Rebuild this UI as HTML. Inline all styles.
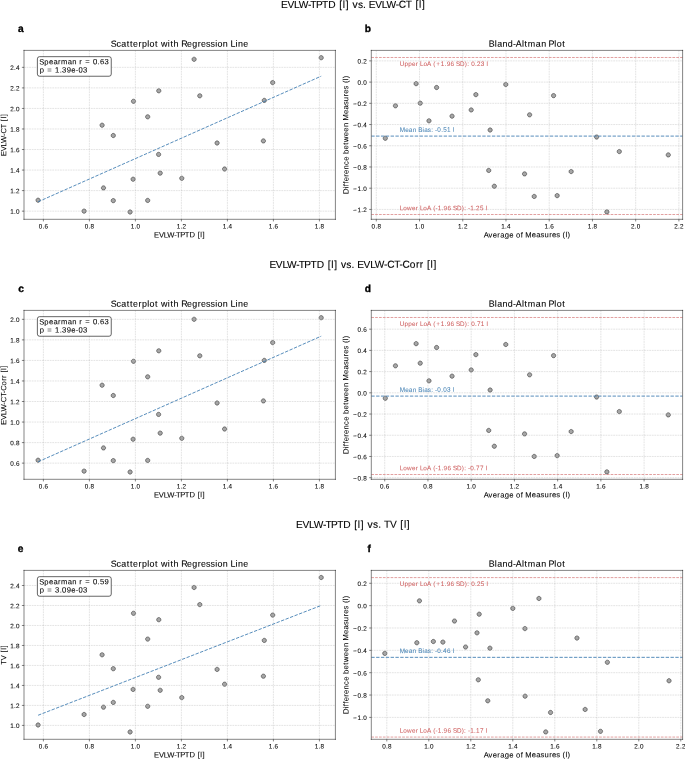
<!DOCTYPE html>
<html><head><meta charset="utf-8"><title>EVLW-TPTD comparison plots</title>
<style>
html,body{margin:0;padding:0;background:#fff;}
body{width:685px;height:760px;overflow:hidden;font-family:"Liberation Sans",sans-serif;}
svg{display:block;will-change:transform;}
</style></head><body>
<svg width="685" height="760" viewBox="0 0 1128.500824 1252.059308" version="1.1">
 
 <defs>
  <style type="text/css">*{stroke-linejoin: round; stroke-linecap: butt}</style>
 </defs>
 <g id="figure_1">
  <g id="patch_1">
   <path d="M 0 1252.059308 
L 1128.500824 1252.059308 
L 1128.500824 0 
L 0 0 
z
" style="fill: #ffffff"/>
  </g>
  <g id="axes_1">
   <g id="patch_2">
    <path d="M 39.538715 361.285008 
L 552.553542 361.285008 
L 552.553542 83.031301 
L 39.538715 83.031301 
z
" style="fill: #ffffff"/>
   </g>
   <g id="PathCollection_1">
    <defs>
     <path id="m68a2e3ce47" d="M 0 3.535534 
C 0.937635 3.535534 1.836992 3.163008 2.5 2.5 
C 3.163008 1.836992 3.535534 0.937635 3.535534 0 
C 3.535534 -0.937635 3.163008 -1.836992 2.5 -2.5 
C 1.836992 -3.163008 0.937635 -3.535534 0 -3.535534 
C -0.937635 -3.535534 -1.836992 -3.163008 -2.5 -2.5 
C -3.163008 -1.836992 -3.535534 -0.937635 -3.535534 0 
C -3.535534 0.937635 -3.163008 1.836992 -2.5 2.5 
C -1.836992 3.163008 -0.937635 3.535534 0 3.535534 
z
" style="stroke: #000000; stroke-opacity: 0.7"/>
    </defs>
    <g clip-path="url(#p856f4ecef2)">
     <use href="#m68a2e3ce47" x="62.749812" y="329.849229" style="fill: #808080; fill-opacity: 0.7; stroke: #000000; stroke-opacity: 0.7"/>
     <use href="#m68a2e3ce47" x="138.533079" y="347.808535" style="fill: #808080; fill-opacity: 0.7; stroke: #000000; stroke-opacity: 0.7"/>
     <use href="#m68a2e3ce47" x="168.187401" y="206.276024" style="fill: #808080; fill-opacity: 0.7; stroke: #000000; stroke-opacity: 0.7"/>
     <use href="#m68a2e3ce47" x="170.493848" y="309.583223" style="fill: #808080; fill-opacity: 0.7; stroke: #000000; stroke-opacity: 0.7"/>
     <use href="#m68a2e3ce47" x="186.638979" y="223.246744" style="fill: #808080; fill-opacity: 0.7; stroke: #000000; stroke-opacity: 0.7"/>
     <use href="#m68a2e3ce47" x="186.638979" y="330.508286" style="fill: #808080; fill-opacity: 0.7; stroke: #000000; stroke-opacity: 0.7"/>
     <use href="#m68a2e3ce47" x="214.316346" y="349.291413" style="fill: #808080; fill-opacity: 0.7; stroke: #000000; stroke-opacity: 0.7"/>
     <use href="#m68a2e3ce47" x="219.258733" y="295.248732" style="fill: #808080; fill-opacity: 0.7; stroke: #000000; stroke-opacity: 0.7"/>
     <use href="#m68a2e3ce47" x="219.917718" y="166.897363" style="fill: #808080; fill-opacity: 0.7; stroke: #000000; stroke-opacity: 0.7"/>
     <use href="#m68a2e3ce47" x="243.311683" y="192.435825" style="fill: #808080; fill-opacity: 0.7; stroke: #000000; stroke-opacity: 0.7"/>
     <use href="#m68a2e3ce47" x="243.311683" y="330.178757" style="fill: #808080; fill-opacity: 0.7; stroke: #000000; stroke-opacity: 0.7"/>
     <use href="#m68a2e3ce47" x="261.269022" y="254.387192" style="fill: #808080; fill-opacity: 0.7; stroke: #000000; stroke-opacity: 0.7"/>
     <use href="#m68a2e3ce47" x="261.598515" y="149.597114" style="fill: #808080; fill-opacity: 0.7; stroke: #000000; stroke-opacity: 0.7"/>
     <use href="#m68a2e3ce47" x="263.904962" y="285.198111" style="fill: #808080; fill-opacity: 0.7; stroke: #000000; stroke-opacity: 0.7"/>
     <use href="#m68a2e3ce47" x="299.490149" y="293.765853" style="fill: #808080; fill-opacity: 0.7; stroke: #000000; stroke-opacity: 0.7"/>
     <use href="#m68a2e3ce47" x="319.753935" y="97.696368" style="fill: #808080; fill-opacity: 0.7; stroke: #000000; stroke-opacity: 0.7"/>
     <use href="#m68a2e3ce47" x="329.14447" y="157.835328" style="fill: #808080; fill-opacity: 0.7; stroke: #000000; stroke-opacity: 0.7"/>
     <use href="#m68a2e3ce47" x="357.645569" y="235.604065" style="fill: #808080; fill-opacity: 0.7; stroke: #000000; stroke-opacity: 0.7"/>
     <use href="#m68a2e3ce47" x="370.001536" y="278.442776" style="fill: #808080; fill-opacity: 0.7; stroke: #000000; stroke-opacity: 0.7"/>
     <use href="#m68a2e3ce47" x="433.923075" y="232.144015" style="fill: #808080; fill-opacity: 0.7; stroke: #000000; stroke-opacity: 0.7"/>
     <use href="#m68a2e3ce47" x="435.405791" y="165.414484" style="fill: #808080; fill-opacity: 0.7; stroke: #000000; stroke-opacity: 0.7"/>
     <use href="#m68a2e3ce47" x="449.244474" y="136.086444" style="fill: #808080; fill-opacity: 0.7; stroke: #000000; stroke-opacity: 0.7"/>
     <use href="#m68a2e3ce47" x="529.146397" y="95.06014" style="fill: #808080; fill-opacity: 0.7; stroke: #000000; stroke-opacity: 0.7"/>
    </g>
   </g>
   <g id="matplotlib.axis_1">
    <g id="xtick_1">
     <g id="line2d_1">
      <path d="M 71.481362 361.285008 
L 71.481362 83.031301 
" clip-path="url(#p856f4ecef2)" style="fill: none; stroke-dasharray: 2.96,1.28; stroke-dashoffset: 0; stroke: #b0b0b0; stroke-opacity: 0.7; stroke-width: 0.8"/>
     </g>
     <g id="line2d_2">
      <defs>
       <path id="mc64cb7f3fb" d="M 0 0 
L 0 3.5 
" style="stroke: #000000; stroke-width: 0.8"/>
      </defs>
      <g>
       <use href="#mc64cb7f3fb" x="71.481362" y="361.285008" style="stroke: #000000; stroke-width: 0.8"/>
      </g>
     </g>
     <g id="text_1">
      <g transform="translate(0 0.6590)"><text style="font-size: 10.500px; font-family: 'Liberation Sans', sans-serif; text-anchor: start; stroke: #000000; stroke-width: 0.100px; stroke-linejoin: round" x="63.788 70.017 73.335" y="375.8834" transform="rotate(-0.05 71.481362 375.883446)">0.6</text></g>
     </g>
    </g>
    <g id="xtick_2">
     <g id="line2d_3">
      <path d="M 147.264629 361.285008 
L 147.264629 83.031301 
" clip-path="url(#p856f4ecef2)" style="fill: none; stroke-dasharray: 2.96,1.28; stroke-dashoffset: 0; stroke: #b0b0b0; stroke-opacity: 0.7; stroke-width: 0.8"/>
     </g>
     <g id="line2d_4">
      <g>
       <use href="#mc64cb7f3fb" x="147.264629" y="361.285008" style="stroke: #000000; stroke-width: 0.8"/>
      </g>
     </g>
     <g id="text_2">
      <g transform="translate(0 0.6590)"><text style="font-size: 10.500px; font-family: 'Liberation Sans', sans-serif; text-anchor: start; stroke: #000000; stroke-width: 0.100px; stroke-linejoin: round" x="139.571 145.800 149.118" y="375.8834" transform="rotate(-0.05 147.264629 375.883446)">0.8</text></g>
     </g>
    </g>
    <g id="xtick_3">
     <g id="line2d_5">
      <path d="M 223.047896 361.285008 
L 223.047896 83.031301 
" clip-path="url(#p856f4ecef2)" style="fill: none; stroke-dasharray: 2.96,1.28; stroke-dashoffset: 0; stroke: #b0b0b0; stroke-opacity: 0.7; stroke-width: 0.8"/>
     </g>
     <g id="line2d_6">
      <g>
       <use href="#mc64cb7f3fb" x="223.047896" y="361.285008" style="stroke: #000000; stroke-width: 0.8"/>
      </g>
     </g>
     <g id="text_3">
      <g transform="translate(0 0.6590)"><text style="font-size: 10.500px; font-family: 'Liberation Sans', sans-serif; text-anchor: start; stroke: #000000; stroke-width: 0.100px; stroke-linejoin: round" x="215.355 221.583 224.902" y="375.8834" transform="rotate(-0.05 223.047896 375.883446)">1.0</text></g>
     </g>
    </g>
    <g id="xtick_4">
     <g id="line2d_7">
      <path d="M 298.831164 361.285008 
L 298.831164 83.031301 
" clip-path="url(#p856f4ecef2)" style="fill: none; stroke-dasharray: 2.96,1.28; stroke-dashoffset: 0; stroke: #b0b0b0; stroke-opacity: 0.7; stroke-width: 0.8"/>
     </g>
     <g id="line2d_8">
      <g>
       <use href="#mc64cb7f3fb" x="298.831164" y="361.285008" style="stroke: #000000; stroke-width: 0.8"/>
      </g>
     </g>
     <g id="text_4">
      <g transform="translate(0 0.6590)"><text style="font-size: 10.500px; font-family: 'Liberation Sans', sans-serif; text-anchor: start; stroke: #000000; stroke-width: 0.100px; stroke-linejoin: round" x="291.138 297.367 300.685" y="375.8834" transform="rotate(-0.05 298.831164 375.883446)">1.2</text></g>
     </g>
    </g>
    <g id="xtick_5">
     <g id="line2d_9">
      <path d="M 374.614431 361.285008 
L 374.614431 83.031301 
" clip-path="url(#p856f4ecef2)" style="fill: none; stroke-dasharray: 2.96,1.28; stroke-dashoffset: 0; stroke: #b0b0b0; stroke-opacity: 0.7; stroke-width: 0.8"/>
     </g>
     <g id="line2d_10">
      <g>
       <use href="#mc64cb7f3fb" x="374.614431" y="361.285008" style="stroke: #000000; stroke-width: 0.8"/>
      </g>
     </g>
     <g id="text_5">
      <g transform="translate(0 0.6590)"><text style="font-size: 10.500px; font-family: 'Liberation Sans', sans-serif; text-anchor: start; stroke: #000000; stroke-width: 0.100px; stroke-linejoin: round" x="366.921 373.150 376.468" y="375.8834" transform="rotate(-0.05 374.614431 375.883446)">1.4</text></g>
     </g>
    </g>
    <g id="xtick_6">
     <g id="line2d_11">
      <path d="M 450.397698 361.285008 
L 450.397698 83.031301 
" clip-path="url(#p856f4ecef2)" style="fill: none; stroke-dasharray: 2.96,1.28; stroke-dashoffset: 0; stroke: #b0b0b0; stroke-opacity: 0.7; stroke-width: 0.8"/>
     </g>
     <g id="line2d_12">
      <g>
       <use href="#mc64cb7f3fb" x="450.397698" y="361.285008" style="stroke: #000000; stroke-width: 0.8"/>
      </g>
     </g>
     <g id="text_6">
      <g transform="translate(0 0.6590)"><text style="font-size: 10.500px; font-family: 'Liberation Sans', sans-serif; text-anchor: start; stroke: #000000; stroke-width: 0.100px; stroke-linejoin: round" x="442.704 448.933 452.251" y="375.8834" transform="rotate(-0.05 450.397698 375.883446)">1.6</text></g>
     </g>
    </g>
    <g id="xtick_7">
     <g id="line2d_13">
      <path d="M 526.180965 361.285008 
L 526.180965 83.031301 
" clip-path="url(#p856f4ecef2)" style="fill: none; stroke-dasharray: 2.96,1.28; stroke-dashoffset: 0; stroke: #b0b0b0; stroke-opacity: 0.7; stroke-width: 0.8"/>
     </g>
     <g id="line2d_14">
      <g>
       <use href="#mc64cb7f3fb" x="526.180965" y="361.285008" style="stroke: #000000; stroke-width: 0.8"/>
      </g>
     </g>
     <g id="text_7">
      <g transform="translate(0 0.6590)"><text style="font-size: 10.500px; font-family: 'Liberation Sans', sans-serif; text-anchor: start; stroke: #000000; stroke-width: 0.100px; stroke-linejoin: round" x="518.488 524.716 528.035" y="375.8834" transform="rotate(-0.05 526.180965 375.883446)">1.8</text></g>
     </g>
    </g>
    <g id="text_8">
     <text style="font-size: 12.600px; font-family: 'Liberation Sans', sans-serif; text-anchor: start; stroke: #000000; stroke-width: 0.120px; stroke-linejoin: round" x="253.856 261.748 269.889 275.594 287.042 289.991 296.918 304.553 312.134 321.460 325.706 330.071 333.722" y="391.0813" transform="rotate(-0.05 296.046129 391.081258)">EVLW-TPTD [l]</text>
    </g>
   </g>
   <g id="matplotlib.axis_2">
    <g id="ytick_1">
     <g id="line2d_15">
      <path d="M 39.538715 347.857964 
L 552.553542 347.857964 
" clip-path="url(#p856f4ecef2)" style="fill: none; stroke-dasharray: 2.96,1.28; stroke-dashoffset: 0; stroke: #b0b0b0; stroke-opacity: 0.7; stroke-width: 0.8"/>
     </g>
     <g id="line2d_16">
      <defs>
       <path id="mc382395a5d" d="M 0 0 
L -3.5 0 
" style="stroke: #000000; stroke-width: 0.8"/>
      </defs>
      <g>
       <use href="#mc382395a5d" x="39.538715" y="347.857964" style="stroke: #000000; stroke-width: 0.8"/>
      </g>
     </g>
     <g id="text_9">
      <g transform="translate(0 0.6590)"><text style="font-size: 10.500px; font-family: 'Liberation Sans', sans-serif; text-anchor: start; stroke: #000000; stroke-width: 0.100px; stroke-linejoin: round" x="16.891 23.120 26.438" y="351.6572" transform="rotate(-0.05 32.538715 351.657183)">1.0</text></g>
     </g>
    </g>
    <g id="ytick_2">
     <g id="line2d_17">
      <path d="M 39.538715 314.015382 
L 552.553542 314.015382 
" clip-path="url(#p856f4ecef2)" style="fill: none; stroke-dasharray: 2.96,1.28; stroke-dashoffset: 0; stroke: #b0b0b0; stroke-opacity: 0.7; stroke-width: 0.8"/>
     </g>
     <g id="line2d_18">
      <g>
       <use href="#mc382395a5d" x="39.538715" y="314.015382" style="stroke: #000000; stroke-width: 0.8"/>
      </g>
     </g>
     <g id="text_10">
      <g transform="translate(0 0.6590)"><text style="font-size: 10.500px; font-family: 'Liberation Sans', sans-serif; text-anchor: start; stroke: #000000; stroke-width: 0.100px; stroke-linejoin: round" x="16.891 23.120 26.438" y="317.8146" transform="rotate(-0.05 32.538715 317.814601)">1.2</text></g>
     </g>
    </g>
    <g id="ytick_3">
     <g id="line2d_19">
      <path d="M 39.538715 280.172801 
L 552.553542 280.172801 
" clip-path="url(#p856f4ecef2)" style="fill: none; stroke-dasharray: 2.96,1.28; stroke-dashoffset: 0; stroke: #b0b0b0; stroke-opacity: 0.7; stroke-width: 0.8"/>
     </g>
     <g id="line2d_20">
      <g>
       <use href="#mc382395a5d" x="39.538715" y="280.172801" style="stroke: #000000; stroke-width: 0.8"/>
      </g>
     </g>
     <g id="text_11">
      <g transform="translate(0 0.6590)"><text style="font-size: 10.500px; font-family: 'Liberation Sans', sans-serif; text-anchor: start; stroke: #000000; stroke-width: 0.100px; stroke-linejoin: round" x="16.891 23.120 26.438" y="283.9720" transform="rotate(-0.05 32.538715 283.972019)">1.4</text></g>
     </g>
    </g>
    <g id="ytick_4">
     <g id="line2d_21">
      <path d="M 39.538715 246.330219 
L 552.553542 246.330219 
" clip-path="url(#p856f4ecef2)" style="fill: none; stroke-dasharray: 2.96,1.28; stroke-dashoffset: 0; stroke: #b0b0b0; stroke-opacity: 0.7; stroke-width: 0.8"/>
     </g>
     <g id="line2d_22">
      <g>
       <use href="#mc382395a5d" x="39.538715" y="246.330219" style="stroke: #000000; stroke-width: 0.8"/>
      </g>
     </g>
     <g id="text_12">
      <g transform="translate(0 0.6590)"><text style="font-size: 10.500px; font-family: 'Liberation Sans', sans-serif; text-anchor: start; stroke: #000000; stroke-width: 0.100px; stroke-linejoin: round" x="16.891 23.120 26.438" y="250.1294" transform="rotate(-0.05 32.538715 250.129438)">1.6</text></g>
     </g>
    </g>
    <g id="ytick_5">
     <g id="line2d_23">
      <path d="M 39.538715 212.487637 
L 552.553542 212.487637 
" clip-path="url(#p856f4ecef2)" style="fill: none; stroke-dasharray: 2.96,1.28; stroke-dashoffset: 0; stroke: #b0b0b0; stroke-opacity: 0.7; stroke-width: 0.8"/>
     </g>
     <g id="line2d_24">
      <g>
       <use href="#mc382395a5d" x="39.538715" y="212.487637" style="stroke: #000000; stroke-width: 0.8"/>
      </g>
     </g>
     <g id="text_13">
      <g transform="translate(0 0.6590)"><text style="font-size: 10.500px; font-family: 'Liberation Sans', sans-serif; text-anchor: start; stroke: #000000; stroke-width: 0.100px; stroke-linejoin: round" x="16.891 23.120 26.438" y="216.2869" transform="rotate(-0.05 32.538715 216.286856)">1.8</text></g>
     </g>
    </g>
    <g id="ytick_6">
     <g id="line2d_25">
      <path d="M 39.538715 178.645055 
L 552.553542 178.645055 
" clip-path="url(#p856f4ecef2)" style="fill: none; stroke-dasharray: 2.96,1.28; stroke-dashoffset: 0; stroke: #b0b0b0; stroke-opacity: 0.7; stroke-width: 0.8"/>
     </g>
     <g id="line2d_26">
      <g>
       <use href="#mc382395a5d" x="39.538715" y="178.645055" style="stroke: #000000; stroke-width: 0.8"/>
      </g>
     </g>
     <g id="text_14">
      <g transform="translate(0 0.6590)"><text style="font-size: 10.500px; font-family: 'Liberation Sans', sans-serif; text-anchor: start; stroke: #000000; stroke-width: 0.100px; stroke-linejoin: round" x="16.891 23.120 26.438" y="182.4443" transform="rotate(-0.05 32.538715 182.444274)">2.0</text></g>
     </g>
    </g>
    <g id="ytick_7">
     <g id="line2d_27">
      <path d="M 39.538715 144.802474 
L 552.553542 144.802474 
" clip-path="url(#p856f4ecef2)" style="fill: none; stroke-dasharray: 2.96,1.28; stroke-dashoffset: 0; stroke: #b0b0b0; stroke-opacity: 0.7; stroke-width: 0.8"/>
     </g>
     <g id="line2d_28">
      <g>
       <use href="#mc382395a5d" x="39.538715" y="144.802474" style="stroke: #000000; stroke-width: 0.8"/>
      </g>
     </g>
     <g id="text_15">
      <g transform="translate(0 0.6590)"><text style="font-size: 10.500px; font-family: 'Liberation Sans', sans-serif; text-anchor: start; stroke: #000000; stroke-width: 0.100px; stroke-linejoin: round" x="16.891 23.120 26.438" y="148.6017" transform="rotate(-0.05 32.538715 148.601692)">2.2</text></g>
     </g>
    </g>
    <g id="ytick_8">
     <g id="line2d_29">
      <path d="M 39.538715 110.959892 
L 552.553542 110.959892 
" clip-path="url(#p856f4ecef2)" style="fill: none; stroke-dasharray: 2.96,1.28; stroke-dashoffset: 0; stroke: #b0b0b0; stroke-opacity: 0.7; stroke-width: 0.8"/>
     </g>
     <g id="line2d_30">
      <g>
       <use href="#mc382395a5d" x="39.538715" y="110.959892" style="stroke: #000000; stroke-width: 0.8"/>
      </g>
     </g>
     <g id="text_16">
      <g transform="translate(0 0.6590)"><text style="font-size: 10.500px; font-family: 'Liberation Sans', sans-serif; text-anchor: start; stroke: #000000; stroke-width: 0.100px; stroke-linejoin: round" x="16.891 23.120 26.438" y="114.7591" transform="rotate(-0.05 32.538715 114.759111)">2.4</text></g>
     </g>
    </g>
    <g id="text_17">
     <text style="font-size: 12.600px; font-family: 'Liberation Sans', sans-serif; text-anchor: start; stroke: #000000; stroke-width: 0.060px; stroke-linejoin: round" x="-24.901 -17.010 -8.869 -3.164 8.284 12.180 20.733 28.406 32.652 37.017 40.667" y="222.1582" transform="rotate(-90.05 10.139965 222.158155)">EVLW-CT [l]</text>
    </g>
   </g>
   <g id="line2d_31">
    <path d="M 62.749812 332.421678 
L 529.146397 125.495315 
" clip-path="url(#p856f4ecef2)" style="fill: none; stroke-dasharray: 5.55,2.4; stroke-dashoffset: 0; stroke: #4682b4; stroke-width: 1.5"/>
   </g>
   <g id="patch_3">
    <path d="M 39.538715 361.285008 
L 39.538715 83.031301 
" style="fill: none; stroke: #000000; stroke-width: 0.8; stroke-linejoin: miter; stroke-linecap: square"/>
   </g>
   <g id="patch_4">
    <path d="M 552.553542 361.285008 
L 552.553542 83.031301 
" style="fill: none; stroke: #000000; stroke-width: 0.8; stroke-linejoin: miter; stroke-linecap: square"/>
   </g>
   <g id="patch_5">
    <path d="M 39.538715 361.285008 
L 552.553542 361.285008 
" style="fill: none; stroke: #000000; stroke-width: 0.8; stroke-linejoin: miter; stroke-linecap: square"/>
   </g>
   <g id="patch_6">
    <path d="M 39.538715 83.031301 
L 552.553542 83.031301 
" style="fill: none; stroke: #000000; stroke-width: 0.8; stroke-linejoin: miter; stroke-linecap: square"/>
   </g>
   <g id="text_18">
    <g id="patch_7">
     <path d="M 65.189456 125.595112 
L 179.682581 125.595112 
Q 183.282581 125.595112 183.282581 121.995112 
L 183.282581 96.943987 
Q 183.282581 93.343987 179.682581 93.343987 
L 65.189456 93.343987 
Q 61.589456 93.343987 61.589456 96.943987 
L 61.589456 121.995112 
Q 61.589456 125.595112 65.189456 125.595112 
z
" style="fill: #ffffff; stroke: #000000; stroke-linejoin: miter"/>
    </g>
    <text style="font-size: 12.600px; font-family: 'Liberation Sans', sans-serif; text-anchor: start; stroke: #000000; stroke-width: 0.120px; stroke-linejoin: round" x="-0.402 7.923 15.431 22.807 30.365 35.274 46.541 54.026 61.497 65.521 70.247 75.247 84.122 88.088 95.575 99.541 107.182" y="0.0000" transform="translate(65.189456 106.062112) rotate(-0.05)">Spearman r = 0.63</text>
    <text style="font-size: 12.600px; font-family: 'Liberation Sans', sans-serif; text-anchor: start; stroke: #000000; stroke-width: 0.120px; stroke-linejoin: round" x="0.298 7.778 12.778 21.653 25.619 33.107 37.072 44.713 52.228 59.500 64.072 71.713" y="0.0000" transform="translate(65.189456 119.499487) rotate(-0.05)">p = 1.39e-03</text>
   </g>
   <g id="text_19">
    <g transform="translate(0 0.8237)"><text style="font-weight: 700; font-size: 16.800px; font-family: 'Liberation Sans', sans-serif; text-anchor: start; stroke: #000000; stroke-width: 0.550px; stroke-linejoin: round" x="29.483" y="51.8784" transform="rotate(-0.05 39.538715 51.878431)">a</text></g>
   </g>
   <g id="text_20">
    <text style="font-size: 14.700px; font-family: 'Liberation Sans', sans-serif; text-anchor: start; stroke: #000000; stroke-width: 0.140px; stroke-linejoin: round" x="182.467 191.994 199.724 208.810 214.294 219.288 228.115 233.784 242.640 246.405 255.482 260.447 265.123 276.483 280.763 285.887 294.603 298.418 308.195 316.941 325.911 331.195 339.558 346.855 354.499 358.264 366.981 375.697 379.772 388.077 391.996 400.741" y="77.0313" transform="rotate(-0.05 296.046129 77.031301)">Scatterplot with Regression Line</text>
   </g>
  </g>
  <g id="axes_2">
   <g id="patch_8">
    <path d="M 611.69687 361.285008 
L 1124.546952 361.285008 
L 1124.546952 83.031301 
L 611.69687 83.031301 
z
" style="fill: #ffffff"/>
   </g>
   <g id="PathCollection_2">
    <g clip-path="url(#p06b17f529e)">
     <use href="#m68a2e3ce47" x="634.768893" y="227.807473" style="fill: #808080; fill-opacity: 0.7; stroke: #000000; stroke-opacity: 0.7"/>
     <use href="#m68a2e3ce47" x="651.481501" y="174.297187" style="fill: #808080; fill-opacity: 0.7; stroke: #000000; stroke-opacity: 0.7"/>
     <use href="#m68a2e3ce47" x="814.338219" y="306.817875" style="fill: #808080; fill-opacity: 0.7; stroke: #000000; stroke-opacity: 0.7"/>
     <use href="#m68a2e3ce47" x="706.720694" y="199.039701" style="fill: #808080; fill-opacity: 0.7; stroke: #000000; stroke-opacity: 0.7"/>
     <use href="#m68a2e3ce47" x="805.151561" y="280.775789" style="fill: #808080; fill-opacity: 0.7; stroke: #000000; stroke-opacity: 0.7"/>
     <use href="#m68a2e3ce47" x="692.289449" y="169.976819" style="fill: #808080; fill-opacity: 0.7; stroke: #000000; stroke-opacity: 0.7"/>
     <use href="#m68a2e3ce47" x="685.530838" y="137.806713" style="fill: #808080; fill-opacity: 0.7; stroke: #000000; stroke-opacity: 0.7"/>
     <use href="#m68a2e3ce47" x="744.71768" y="191.351778" style="fill: #808080; fill-opacity: 0.7; stroke: #000000; stroke-opacity: 0.7"/>
     <use href="#m68a2e3ce47" x="880.080456" y="323.632117" style="fill: #808080; fill-opacity: 0.7; stroke: #000000; stroke-opacity: 0.7"/>
     <use href="#m68a2e3ce47" x="864.201066" y="286.459814" style="fill: #808080; fill-opacity: 0.7; stroke: #000000; stroke-opacity: 0.7"/>
     <use href="#m68a2e3ce47" x="719.266004" y="144.174194" style="fill: #808080; fill-opacity: 0.7; stroke: #000000; stroke-opacity: 0.7"/>
     <use href="#m68a2e3ce47" x="807.452899" y="214.181634" style="fill: #808080; fill-opacity: 0.7; stroke: #000000; stroke-opacity: 0.7"/>
     <use href="#m68a2e3ce47" x="917.869326" y="322.275638" style="fill: #808080; fill-opacity: 0.7; stroke: #000000; stroke-opacity: 0.7"/>
     <use href="#m68a2e3ce47" x="776.27181" y="181.138633" style="fill: #808080; fill-opacity: 0.7; stroke: #000000; stroke-opacity: 0.7"/>
     <use href="#m68a2e3ce47" x="783.977761" y="155.872946" style="fill: #808080; fill-opacity: 0.7; stroke: #000000; stroke-opacity: 0.7"/>
     <use href="#m68a2e3ce47" x="999.806556" y="349.061046" style="fill: #808080; fill-opacity: 0.7; stroke: #000000; stroke-opacity: 0.7"/>
     <use href="#m68a2e3ce47" x="940.939991" y="282.606898" style="fill: #808080; fill-opacity: 0.7; stroke: #000000; stroke-opacity: 0.7"/>
     <use href="#m68a2e3ce47" x="872.502948" y="189.125883" style="fill: #808080; fill-opacity: 0.7; stroke: #000000; stroke-opacity: 0.7"/>
     <use href="#m68a2e3ce47" x="833.23337" y="139.174587" style="fill: #808080; fill-opacity: 0.7; stroke: #000000; stroke-opacity: 0.7"/>
     <use href="#m68a2e3ce47" x="911.985541" y="157.51336" style="fill: #808080; fill-opacity: 0.7; stroke: #000000; stroke-opacity: 0.7"/>
     <use href="#m68a2e3ce47" x="982.896008" y="225.75962" style="fill: #808080; fill-opacity: 0.7; stroke: #000000; stroke-opacity: 0.7"/>
     <use href="#m68a2e3ce47" x="1020.258018" y="249.671122" style="fill: #808080; fill-opacity: 0.7; stroke: #000000; stroke-opacity: 0.7"/>
     <use href="#m68a2e3ce47" x="1100.971425" y="255.191831" style="fill: #808080; fill-opacity: 0.7; stroke: #000000; stroke-opacity: 0.7"/>
    </g>
   </g>
   <g id="matplotlib.axis_3">
    <g id="xtick_8">
     <g id="line2d_32">
      <path d="M 619.922697 361.285008 
L 619.922697 83.031301 
" clip-path="url(#p06b17f529e)" style="fill: none; stroke-dasharray: 2.96,1.28; stroke-dashoffset: 0; stroke: #b0b0b0; stroke-opacity: 0.7; stroke-width: 0.8"/>
     </g>
     <g id="line2d_33">
      <g>
       <use href="#mc64cb7f3fb" x="619.922697" y="361.285008" style="stroke: #000000; stroke-width: 0.8"/>
      </g>
     </g>
     <g id="text_21">
      <g transform="translate(0 0.6590)"><text style="font-size: 10.500px; font-family: 'Liberation Sans', sans-serif; text-anchor: start; stroke: #000000; stroke-width: 0.100px; stroke-linejoin: round" x="612.229 618.458 621.776" y="375.8834" transform="rotate(-0.05 619.922697 375.883446)">0.8</text></g>
     </g>
    </g>
    <g id="xtick_9">
     <g id="line2d_34">
      <path d="M 691.141984 361.285008 
L 691.141984 83.031301 
" clip-path="url(#p06b17f529e)" style="fill: none; stroke-dasharray: 2.96,1.28; stroke-dashoffset: 0; stroke: #b0b0b0; stroke-opacity: 0.7; stroke-width: 0.8"/>
     </g>
     <g id="line2d_35">
      <g>
       <use href="#mc64cb7f3fb" x="691.141984" y="361.285008" style="stroke: #000000; stroke-width: 0.8"/>
      </g>
     </g>
     <g id="text_22">
      <g transform="translate(0 0.6590)"><text style="font-size: 10.500px; font-family: 'Liberation Sans', sans-serif; text-anchor: start; stroke: #000000; stroke-width: 0.100px; stroke-linejoin: round" x="683.449 689.678 692.996" y="375.8834" transform="rotate(-0.05 691.141984 375.883446)">1.0</text></g>
     </g>
    </g>
    <g id="xtick_10">
     <g id="line2d_36">
      <path d="M 762.361271 361.285008 
L 762.361271 83.031301 
" clip-path="url(#p06b17f529e)" style="fill: none; stroke-dasharray: 2.96,1.28; stroke-dashoffset: 0; stroke: #b0b0b0; stroke-opacity: 0.7; stroke-width: 0.8"/>
     </g>
     <g id="line2d_37">
      <g>
       <use href="#mc64cb7f3fb" x="762.361271" y="361.285008" style="stroke: #000000; stroke-width: 0.8"/>
      </g>
     </g>
     <g id="text_23">
      <g transform="translate(0 0.6590)"><text style="font-size: 10.500px; font-family: 'Liberation Sans', sans-serif; text-anchor: start; stroke: #000000; stroke-width: 0.100px; stroke-linejoin: round" x="754.668 760.897 764.215" y="375.8834" transform="rotate(-0.05 762.361271 375.883446)">1.2</text></g>
     </g>
    </g>
    <g id="xtick_11">
     <g id="line2d_38">
      <path d="M 833.580557 361.285008 
L 833.580557 83.031301 
" clip-path="url(#p06b17f529e)" style="fill: none; stroke-dasharray: 2.96,1.28; stroke-dashoffset: 0; stroke: #b0b0b0; stroke-opacity: 0.7; stroke-width: 0.8"/>
     </g>
     <g id="line2d_39">
      <g>
       <use href="#mc64cb7f3fb" x="833.580557" y="361.285008" style="stroke: #000000; stroke-width: 0.8"/>
      </g>
     </g>
     <g id="text_24">
      <g transform="translate(0 0.6590)"><text style="font-size: 10.500px; font-family: 'Liberation Sans', sans-serif; text-anchor: start; stroke: #000000; stroke-width: 0.100px; stroke-linejoin: round" x="825.887 832.116 835.434" y="375.8834" transform="rotate(-0.05 833.580557 375.883446)">1.4</text></g>
     </g>
    </g>
    <g id="xtick_12">
     <g id="line2d_40">
      <path d="M 904.799844 361.285008 
L 904.799844 83.031301 
" clip-path="url(#p06b17f529e)" style="fill: none; stroke-dasharray: 2.96,1.28; stroke-dashoffset: 0; stroke: #b0b0b0; stroke-opacity: 0.7; stroke-width: 0.8"/>
     </g>
     <g id="line2d_41">
      <g>
       <use href="#mc64cb7f3fb" x="904.799844" y="361.285008" style="stroke: #000000; stroke-width: 0.8"/>
      </g>
     </g>
     <g id="text_25">
      <g transform="translate(0 0.6590)"><text style="font-size: 10.500px; font-family: 'Liberation Sans', sans-serif; text-anchor: start; stroke: #000000; stroke-width: 0.100px; stroke-linejoin: round" x="897.107 903.335 906.653" y="375.8834" transform="rotate(-0.05 904.799844 375.883446)">1.6</text></g>
     </g>
    </g>
    <g id="xtick_13">
     <g id="line2d_42">
      <path d="M 976.01913 361.285008 
L 976.01913 83.031301 
" clip-path="url(#p06b17f529e)" style="fill: none; stroke-dasharray: 2.96,1.28; stroke-dashoffset: 0; stroke: #b0b0b0; stroke-opacity: 0.7; stroke-width: 0.8"/>
     </g>
     <g id="line2d_43">
      <g>
       <use href="#mc64cb7f3fb" x="976.01913" y="361.285008" style="stroke: #000000; stroke-width: 0.8"/>
      </g>
     </g>
     <g id="text_26">
      <g transform="translate(0 0.6590)"><text style="font-size: 10.500px; font-family: 'Liberation Sans', sans-serif; text-anchor: start; stroke: #000000; stroke-width: 0.100px; stroke-linejoin: round" x="968.326 974.555 977.873" y="375.8834" transform="rotate(-0.05 976.01913 375.883446)">1.8</text></g>
     </g>
    </g>
    <g id="xtick_14">
     <g id="line2d_44">
      <path d="M 1047.238417 361.285008 
L 1047.238417 83.031301 
" clip-path="url(#p06b17f529e)" style="fill: none; stroke-dasharray: 2.96,1.28; stroke-dashoffset: 0; stroke: #b0b0b0; stroke-opacity: 0.7; stroke-width: 0.8"/>
     </g>
     <g id="line2d_45">
      <g>
       <use href="#mc64cb7f3fb" x="1047.238417" y="361.285008" style="stroke: #000000; stroke-width: 0.8"/>
      </g>
     </g>
     <g id="text_27">
      <g transform="translate(0 0.6590)"><text style="font-size: 10.500px; font-family: 'Liberation Sans', sans-serif; text-anchor: start; stroke: #000000; stroke-width: 0.100px; stroke-linejoin: round" x="1039.545 1045.774 1049.092" y="375.8834" transform="rotate(-0.05 1047.238417 375.883446)">2.0</text></g>
     </g>
    </g>
    <g id="xtick_15">
     <g id="line2d_46">
      <path d="M 1118.457703 361.285008 
L 1118.457703 83.031301 
" clip-path="url(#p06b17f529e)" style="fill: none; stroke-dasharray: 2.96,1.28; stroke-dashoffset: 0; stroke: #b0b0b0; stroke-opacity: 0.7; stroke-width: 0.8"/>
     </g>
     <g id="line2d_47">
      <g>
       <use href="#mc64cb7f3fb" x="1118.457703" y="361.285008" style="stroke: #000000; stroke-width: 0.8"/>
      </g>
     </g>
     <g id="text_28">
      <g transform="translate(0 0.6590)"><text style="font-size: 10.500px; font-family: 'Liberation Sans', sans-serif; text-anchor: start; stroke: #000000; stroke-width: 0.100px; stroke-linejoin: round" x="1110.764 1116.993 1120.311" y="375.8834" transform="rotate(-0.05 1118.457703 375.883446)">2.2</text></g>
     </g>
    </g>
    <g id="text_29">
     <text style="font-size: 12.600px; font-family: 'Liberation Sans', sans-serif; text-anchor: start; stroke: #000000; stroke-width: 0.120px; stroke-linejoin: round" x="796.886 804.840 811.735 819.310 824.049 831.540 839.048 846.411 850.230 857.772 861.786 865.364 875.985 883.361 890.524 897.097 904.779 909.282 916.462 922.895 926.793 931.507 934.809" y="391.0813" transform="rotate(-0.05 868.121911 391.081258)">Average of Measures (l)</text>
    </g>
   </g>
   <g id="matplotlib.axis_4">
    <g id="ytick_9">
     <g id="line2d_48">
      <path d="M 611.69687 345.011737 
L 1124.546952 345.011737 
" clip-path="url(#p06b17f529e)" style="fill: none; stroke-dasharray: 2.96,1.28; stroke-dashoffset: 0; stroke: #b0b0b0; stroke-opacity: 0.7; stroke-width: 0.8"/>
     </g>
     <g id="line2d_49">
      <g>
       <use href="#mc382395a5d" x="611.69687" y="345.011737" style="stroke: #000000; stroke-width: 0.8"/>
      </g>
     </g>
     <g id="text_30">
      <g transform="translate(0 0.6590)"><text style="font-size: 10.500px; font-family: 'Liberation Sans', sans-serif; text-anchor: start; stroke: #000000; stroke-width: 0.100px; stroke-linejoin: round" x="581.536 589.049 595.278 598.596" y="348.8110" transform="rotate(-0.05 604.69687 348.810956)">−1.2</text></g>
     </g>
    </g>
    <g id="ytick_10">
     <g id="line2d_50">
      <path d="M 611.69687 310.053046 
L 1124.546952 310.053046 
" clip-path="url(#p06b17f529e)" style="fill: none; stroke-dasharray: 2.96,1.28; stroke-dashoffset: 0; stroke: #b0b0b0; stroke-opacity: 0.7; stroke-width: 0.8"/>
     </g>
     <g id="line2d_51">
      <g>
       <use href="#mc382395a5d" x="611.69687" y="310.053046" style="stroke: #000000; stroke-width: 0.8"/>
      </g>
     </g>
     <g id="text_31">
      <g transform="translate(0 0.6590)"><text style="font-size: 10.500px; font-family: 'Liberation Sans', sans-serif; text-anchor: start; stroke: #000000; stroke-width: 0.100px; stroke-linejoin: round" x="581.536 589.049 595.278 598.596" y="313.8523" transform="rotate(-0.05 604.69687 313.852264)">−1.0</text></g>
     </g>
    </g>
    <g id="ytick_11">
     <g id="line2d_52">
      <path d="M 611.69687 275.094354 
L 1124.546952 275.094354 
" clip-path="url(#p06b17f529e)" style="fill: none; stroke-dasharray: 2.96,1.28; stroke-dashoffset: 0; stroke: #b0b0b0; stroke-opacity: 0.7; stroke-width: 0.8"/>
     </g>
     <g id="line2d_53">
      <g>
       <use href="#mc382395a5d" x="611.69687" y="275.094354" style="stroke: #000000; stroke-width: 0.8"/>
      </g>
     </g>
     <g id="text_32">
      <g transform="translate(0 0.6590)"><text style="font-size: 10.500px; font-family: 'Liberation Sans', sans-serif; text-anchor: start; stroke: #000000; stroke-width: 0.100px; stroke-linejoin: round" x="581.536 589.049 595.278 598.596" y="278.8936" transform="rotate(-0.05 604.69687 278.893573)">−0.8</text></g>
     </g>
    </g>
    <g id="ytick_12">
     <g id="line2d_54">
      <path d="M 611.69687 240.135662 
L 1124.546952 240.135662 
" clip-path="url(#p06b17f529e)" style="fill: none; stroke-dasharray: 2.96,1.28; stroke-dashoffset: 0; stroke: #b0b0b0; stroke-opacity: 0.7; stroke-width: 0.8"/>
     </g>
     <g id="line2d_55">
      <g>
       <use href="#mc382395a5d" x="611.69687" y="240.135662" style="stroke: #000000; stroke-width: 0.8"/>
      </g>
     </g>
     <g id="text_33">
      <g transform="translate(0 0.6590)"><text style="font-size: 10.500px; font-family: 'Liberation Sans', sans-serif; text-anchor: start; stroke: #000000; stroke-width: 0.100px; stroke-linejoin: round" x="581.536 589.049 595.278 598.596" y="243.9349" transform="rotate(-0.05 604.69687 243.934881)">−0.6</text></g>
     </g>
    </g>
    <g id="ytick_13">
     <g id="line2d_56">
      <path d="M 611.69687 205.17697 
L 1124.546952 205.17697 
" clip-path="url(#p06b17f529e)" style="fill: none; stroke-dasharray: 2.96,1.28; stroke-dashoffset: 0; stroke: #b0b0b0; stroke-opacity: 0.7; stroke-width: 0.8"/>
     </g>
     <g id="line2d_57">
      <g>
       <use href="#mc382395a5d" x="611.69687" y="205.17697" style="stroke: #000000; stroke-width: 0.8"/>
      </g>
     </g>
     <g id="text_34">
      <g transform="translate(0 0.6590)"><text style="font-size: 10.500px; font-family: 'Liberation Sans', sans-serif; text-anchor: start; stroke: #000000; stroke-width: 0.100px; stroke-linejoin: round" x="581.536 589.049 595.278 598.596" y="208.9762" transform="rotate(-0.05 604.69687 208.976189)">−0.4</text></g>
     </g>
    </g>
    <g id="ytick_14">
     <g id="line2d_58">
      <path d="M 611.69687 170.218279 
L 1124.546952 170.218279 
" clip-path="url(#p06b17f529e)" style="fill: none; stroke-dasharray: 2.96,1.28; stroke-dashoffset: 0; stroke: #b0b0b0; stroke-opacity: 0.7; stroke-width: 0.8"/>
     </g>
     <g id="line2d_59">
      <g>
       <use href="#mc382395a5d" x="611.69687" y="170.218279" style="stroke: #000000; stroke-width: 0.8"/>
      </g>
     </g>
     <g id="text_35">
      <g transform="translate(0 0.6590)"><text style="font-size: 10.500px; font-family: 'Liberation Sans', sans-serif; text-anchor: start; stroke: #000000; stroke-width: 0.100px; stroke-linejoin: round" x="581.536 589.049 595.278 598.596" y="174.0175" transform="rotate(-0.05 604.69687 174.017497)">−0.2</text></g>
     </g>
    </g>
    <g id="ytick_15">
     <g id="line2d_60">
      <path d="M 611.69687 135.259587 
L 1124.546952 135.259587 
" clip-path="url(#p06b17f529e)" style="fill: none; stroke-dasharray: 2.96,1.28; stroke-dashoffset: 0; stroke: #b0b0b0; stroke-opacity: 0.7; stroke-width: 0.8"/>
     </g>
     <g id="line2d_61">
      <g>
       <use href="#mc382395a5d" x="611.69687" y="135.259587" style="stroke: #000000; stroke-width: 0.8"/>
      </g>
     </g>
     <g id="text_36">
      <g transform="translate(0 0.6590)"><text style="font-size: 10.500px; font-family: 'Liberation Sans', sans-serif; text-anchor: start; stroke: #000000; stroke-width: 0.100px; stroke-linejoin: round" x="589.049 595.278 598.596" y="139.0588" transform="rotate(-0.05 604.69687 139.058806)">0.0</text></g>
     </g>
    </g>
    <g id="ytick_16">
     <g id="line2d_62">
      <path d="M 611.69687 100.300895 
L 1124.546952 100.300895 
" clip-path="url(#p06b17f529e)" style="fill: none; stroke-dasharray: 2.96,1.28; stroke-dashoffset: 0; stroke: #b0b0b0; stroke-opacity: 0.7; stroke-width: 0.8"/>
     </g>
     <g id="line2d_63">
      <g>
       <use href="#mc382395a5d" x="611.69687" y="100.300895" style="stroke: #000000; stroke-width: 0.8"/>
      </g>
     </g>
     <g id="text_37">
      <g transform="translate(0 0.6590)"><text style="font-size: 10.500px; font-family: 'Liberation Sans', sans-serif; text-anchor: start; stroke: #000000; stroke-width: 0.100px; stroke-linejoin: round" x="589.049 595.278 598.596" y="104.1001" transform="rotate(-0.05 604.69687 104.100114)">0.2</text></g>
     </g>
    </g>
    <g id="text_38">
     <text style="font-size: 12.600px; font-family: 'Liberation Sans', sans-serif; text-anchor: start; stroke: #000000; stroke-width: 0.060px; stroke-linejoin: round" x="476.272 485.709 489.131 493.350 497.391 504.966 509.469 516.971 524.431 531.063 538.426 542.383 549.891 557.700 562.153 571.797 579.188 586.690 594.161 597.738 608.360 615.736 622.899 629.471 637.153 641.657 648.836 655.270 659.168 663.881 667.184" y="222.1582" transform="rotate(-90.05 573.918432 222.158155)">Difference between Measures (l)</text>
    </g>
   </g>
   <g id="line2d_64">
    <path d="M 611.69687 224.229457 
L 1124.546952 224.229457 
" clip-path="url(#p06b17f529e)" style="fill: none; stroke-dasharray: 5.55,2.4; stroke-dashoffset: 0; stroke: #4682b4; stroke-width: 1.5"/>
   </g>
   <g id="line2d_65">
    <path d="M 611.69687 94.707505 
L 1124.546952 94.707505 
" clip-path="url(#p06b17f529e)" style="fill: none; stroke-dasharray: 4.44,1.92; stroke-dashoffset: 0; stroke: #cd5c5c; stroke-opacity: 0.8; stroke-width: 1.2"/>
   </g>
   <g id="line2d_66">
    <path d="M 611.69687 353.401823 
L 1124.546952 353.401823 
" clip-path="url(#p06b17f529e)" style="fill: none; stroke-dasharray: 4.44,1.92; stroke-dashoffset: 0; stroke: #cd5c5c; stroke-opacity: 0.8; stroke-width: 1.2"/>
   </g>
   <g id="patch_9">
    <path d="M 611.69687 361.285008 
L 611.69687 83.031301 
" style="fill: none; stroke: #000000; stroke-width: 0.8; stroke-linejoin: miter; stroke-linecap: square"/>
   </g>
   <g id="patch_10">
    <path d="M 1124.546952 361.285008 
L 1124.546952 83.031301 
" style="fill: none; stroke: #000000; stroke-width: 0.8; stroke-linejoin: miter; stroke-linecap: square"/>
   </g>
   <g id="patch_11">
    <path d="M 611.69687 361.285008 
L 1124.546952 361.285008 
" style="fill: none; stroke: #000000; stroke-width: 0.8; stroke-linejoin: miter; stroke-linecap: square"/>
   </g>
   <g id="patch_12">
    <path d="M 611.69687 83.031301 
L 1124.546952 83.031301 
" style="fill: none; stroke: #000000; stroke-width: 0.8; stroke-linejoin: miter; stroke-linecap: square"/>
   </g>
   <g id="text_39">
    <text style="font-size: 10.500px; font-family: 'Liberation Sans', sans-serif; text-anchor: start; fill: #cd5c5c; stroke: #cd5c5c; stroke-width: 0.050px; stroke-linejoin: round" x="658.516 666.230 672.573 678.820 685.127 689.060 691.982 697.709 703.613 710.669 713.928 718.756 726.268 732.497 735.815 742.175 748.403 751.132 757.863 765.709 769.639 772.919 776.237 782.466 785.784 792.143 798.372 801.652" y="108.7108" transform="rotate(-0.05 658.647595 108.710799)">Upper LoA (+1.96 SD): 0.23 l</text>
   </g>
   <g id="text_40">
    <text style="font-size: 10.500px; font-family: 'Liberation Sans', sans-serif; text-anchor: start; fill: #4682b4; stroke: #4682b4; stroke-width: 0.050px; stroke-linejoin: round" x="658.588 667.429 673.573 679.803 686.028 689.014 696.167 698.870 704.831 710.295 713.575 716.688 720.503 726.731 730.050 736.409 742.638 745.917" y="217.3102" transform="rotate(-0.05 658.647595 217.310182)">Mean Bias: -0.51 l</text>
   </g>
   <g id="text_41">
    <text style="font-size: 10.500px; font-family: 'Liberation Sans', sans-serif; text-anchor: start; fill: #cd5c5c; stroke: #cd5c5c; stroke-width: 0.050px; stroke-linejoin: round" x="658.513 664.240 670.524 678.570 684.877 688.810 691.732 697.459 703.363 710.419 713.678 717.438 721.253 727.481 730.800 737.159 743.388 746.117 752.847 760.694 764.624 767.903 771.016 774.831 781.060 784.378 790.737 796.966 800.245" y="346.4825" transform="rotate(-0.05 658.647595 346.482548)">Lower LoA (-1.96 SD): -1.25 l</text>
   </g>
   <g id="text_42">
    <g transform="translate(0 0.8237)"><text style="font-weight: 700; font-size: 16.800px; font-family: 'Liberation Sans', sans-serif; text-anchor: start; stroke: #000000; stroke-width: 0.550px; stroke-linejoin: round" x="600.855" y="51.8784" transform="rotate(-0.05 611.69687 51.878431)">b</text></g>
   </g>
   <g id="text_43">
    <text style="font-size: 14.700px; font-family: 'Liberation Sans', sans-serif; text-anchor: start; stroke: #000000; stroke-width: 0.140px; stroke-linejoin: round" x="805.245 815.277 819.050 827.775 836.657 845.275 849.872 859.887 864.167 869.631 882.784 891.509 900.225 903.804 913.246 917.011 926.089" y="77.0313" transform="rotate(-0.05 868.121911 77.031301)">Bland-Altman Plot</text>
   </g>
  </g>
  <g id="axes_3">
   <g id="patch_13">
    <path d="M 39.538715 789.621087 
L 552.553542 789.621087 
L 552.553542 511.367381 
L 39.538715 511.367381 
z
" style="fill: #ffffff"/>
   </g>
   <g id="PathCollection_3">
    <g clip-path="url(#p61c717b0c8)">
     <use href="#m68a2e3ce47" x="62.749812" y="758.185308" style="fill: #808080; fill-opacity: 0.7; stroke: #000000; stroke-opacity: 0.7"/>
     <use href="#m68a2e3ce47" x="138.533079" y="776.144614" style="fill: #808080; fill-opacity: 0.7; stroke: #000000; stroke-opacity: 0.7"/>
     <use href="#m68a2e3ce47" x="168.187401" y="634.612103" style="fill: #808080; fill-opacity: 0.7; stroke: #000000; stroke-opacity: 0.7"/>
     <use href="#m68a2e3ce47" x="170.493848" y="737.919302" style="fill: #808080; fill-opacity: 0.7; stroke: #000000; stroke-opacity: 0.7"/>
     <use href="#m68a2e3ce47" x="186.638979" y="651.582823" style="fill: #808080; fill-opacity: 0.7; stroke: #000000; stroke-opacity: 0.7"/>
     <use href="#m68a2e3ce47" x="186.638979" y="758.844365" style="fill: #808080; fill-opacity: 0.7; stroke: #000000; stroke-opacity: 0.7"/>
     <use href="#m68a2e3ce47" x="214.316346" y="777.627492" style="fill: #808080; fill-opacity: 0.7; stroke: #000000; stroke-opacity: 0.7"/>
     <use href="#m68a2e3ce47" x="219.258733" y="723.584811" style="fill: #808080; fill-opacity: 0.7; stroke: #000000; stroke-opacity: 0.7"/>
     <use href="#m68a2e3ce47" x="219.917718" y="595.233442" style="fill: #808080; fill-opacity: 0.7; stroke: #000000; stroke-opacity: 0.7"/>
     <use href="#m68a2e3ce47" x="243.311683" y="620.771904" style="fill: #808080; fill-opacity: 0.7; stroke: #000000; stroke-opacity: 0.7"/>
     <use href="#m68a2e3ce47" x="243.311683" y="758.514837" style="fill: #808080; fill-opacity: 0.7; stroke: #000000; stroke-opacity: 0.7"/>
     <use href="#m68a2e3ce47" x="261.269022" y="682.723271" style="fill: #808080; fill-opacity: 0.7; stroke: #000000; stroke-opacity: 0.7"/>
     <use href="#m68a2e3ce47" x="261.598515" y="577.933193" style="fill: #808080; fill-opacity: 0.7; stroke: #000000; stroke-opacity: 0.7"/>
     <use href="#m68a2e3ce47" x="263.904962" y="713.53419" style="fill: #808080; fill-opacity: 0.7; stroke: #000000; stroke-opacity: 0.7"/>
     <use href="#m68a2e3ce47" x="299.490149" y="722.101932" style="fill: #808080; fill-opacity: 0.7; stroke: #000000; stroke-opacity: 0.7"/>
     <use href="#m68a2e3ce47" x="319.753935" y="526.032447" style="fill: #808080; fill-opacity: 0.7; stroke: #000000; stroke-opacity: 0.7"/>
     <use href="#m68a2e3ce47" x="329.14447" y="586.171407" style="fill: #808080; fill-opacity: 0.7; stroke: #000000; stroke-opacity: 0.7"/>
     <use href="#m68a2e3ce47" x="357.645569" y="663.940144" style="fill: #808080; fill-opacity: 0.7; stroke: #000000; stroke-opacity: 0.7"/>
     <use href="#m68a2e3ce47" x="370.001536" y="706.778855" style="fill: #808080; fill-opacity: 0.7; stroke: #000000; stroke-opacity: 0.7"/>
     <use href="#m68a2e3ce47" x="433.923075" y="660.480094" style="fill: #808080; fill-opacity: 0.7; stroke: #000000; stroke-opacity: 0.7"/>
     <use href="#m68a2e3ce47" x="435.405791" y="593.750563" style="fill: #808080; fill-opacity: 0.7; stroke: #000000; stroke-opacity: 0.7"/>
     <use href="#m68a2e3ce47" x="449.244474" y="564.422523" style="fill: #808080; fill-opacity: 0.7; stroke: #000000; stroke-opacity: 0.7"/>
     <use href="#m68a2e3ce47" x="529.146397" y="523.396219" style="fill: #808080; fill-opacity: 0.7; stroke: #000000; stroke-opacity: 0.7"/>
    </g>
   </g>
   <g id="matplotlib.axis_5">
    <g id="xtick_16">
     <g id="line2d_67">
      <path d="M 71.481362 789.621087 
L 71.481362 511.367381 
" clip-path="url(#p61c717b0c8)" style="fill: none; stroke-dasharray: 2.96,1.28; stroke-dashoffset: 0; stroke: #b0b0b0; stroke-opacity: 0.7; stroke-width: 0.8"/>
     </g>
     <g id="line2d_68">
      <g>
       <use href="#mc64cb7f3fb" x="71.481362" y="789.621087" style="stroke: #000000; stroke-width: 0.8"/>
      </g>
     </g>
     <g id="text_44">
      <g transform="translate(0 0.6590)"><text style="font-size: 10.500px; font-family: 'Liberation Sans', sans-serif; text-anchor: start; stroke: #000000; stroke-width: 0.100px; stroke-linejoin: round" x="63.788 70.017 73.335" y="804.2195" transform="rotate(-0.05 71.481362 804.219525)">0.6</text></g>
     </g>
    </g>
    <g id="xtick_17">
     <g id="line2d_69">
      <path d="M 147.264629 789.621087 
L 147.264629 511.367381 
" clip-path="url(#p61c717b0c8)" style="fill: none; stroke-dasharray: 2.96,1.28; stroke-dashoffset: 0; stroke: #b0b0b0; stroke-opacity: 0.7; stroke-width: 0.8"/>
     </g>
     <g id="line2d_70">
      <g>
       <use href="#mc64cb7f3fb" x="147.264629" y="789.621087" style="stroke: #000000; stroke-width: 0.8"/>
      </g>
     </g>
     <g id="text_45">
      <g transform="translate(0 0.6590)"><text style="font-size: 10.500px; font-family: 'Liberation Sans', sans-serif; text-anchor: start; stroke: #000000; stroke-width: 0.100px; stroke-linejoin: round" x="139.571 145.800 149.118" y="804.2195" transform="rotate(-0.05 147.264629 804.219525)">0.8</text></g>
     </g>
    </g>
    <g id="xtick_18">
     <g id="line2d_71">
      <path d="M 223.047896 789.621087 
L 223.047896 511.367381 
" clip-path="url(#p61c717b0c8)" style="fill: none; stroke-dasharray: 2.96,1.28; stroke-dashoffset: 0; stroke: #b0b0b0; stroke-opacity: 0.7; stroke-width: 0.8"/>
     </g>
     <g id="line2d_72">
      <g>
       <use href="#mc64cb7f3fb" x="223.047896" y="789.621087" style="stroke: #000000; stroke-width: 0.8"/>
      </g>
     </g>
     <g id="text_46">
      <g transform="translate(0 0.6590)"><text style="font-size: 10.500px; font-family: 'Liberation Sans', sans-serif; text-anchor: start; stroke: #000000; stroke-width: 0.100px; stroke-linejoin: round" x="215.355 221.583 224.902" y="804.2195" transform="rotate(-0.05 223.047896 804.219525)">1.0</text></g>
     </g>
    </g>
    <g id="xtick_19">
     <g id="line2d_73">
      <path d="M 298.831164 789.621087 
L 298.831164 511.367381 
" clip-path="url(#p61c717b0c8)" style="fill: none; stroke-dasharray: 2.96,1.28; stroke-dashoffset: 0; stroke: #b0b0b0; stroke-opacity: 0.7; stroke-width: 0.8"/>
     </g>
     <g id="line2d_74">
      <g>
       <use href="#mc64cb7f3fb" x="298.831164" y="789.621087" style="stroke: #000000; stroke-width: 0.8"/>
      </g>
     </g>
     <g id="text_47">
      <g transform="translate(0 0.6590)"><text style="font-size: 10.500px; font-family: 'Liberation Sans', sans-serif; text-anchor: start; stroke: #000000; stroke-width: 0.100px; stroke-linejoin: round" x="291.138 297.367 300.685" y="804.2195" transform="rotate(-0.05 298.831164 804.219525)">1.2</text></g>
     </g>
    </g>
    <g id="xtick_20">
     <g id="line2d_75">
      <path d="M 374.614431 789.621087 
L 374.614431 511.367381 
" clip-path="url(#p61c717b0c8)" style="fill: none; stroke-dasharray: 2.96,1.28; stroke-dashoffset: 0; stroke: #b0b0b0; stroke-opacity: 0.7; stroke-width: 0.8"/>
     </g>
     <g id="line2d_76">
      <g>
       <use href="#mc64cb7f3fb" x="374.614431" y="789.621087" style="stroke: #000000; stroke-width: 0.8"/>
      </g>
     </g>
     <g id="text_48">
      <g transform="translate(0 0.6590)"><text style="font-size: 10.500px; font-family: 'Liberation Sans', sans-serif; text-anchor: start; stroke: #000000; stroke-width: 0.100px; stroke-linejoin: round" x="366.921 373.150 376.468" y="804.2195" transform="rotate(-0.05 374.614431 804.219525)">1.4</text></g>
     </g>
    </g>
    <g id="xtick_21">
     <g id="line2d_77">
      <path d="M 450.397698 789.621087 
L 450.397698 511.367381 
" clip-path="url(#p61c717b0c8)" style="fill: none; stroke-dasharray: 2.96,1.28; stroke-dashoffset: 0; stroke: #b0b0b0; stroke-opacity: 0.7; stroke-width: 0.8"/>
     </g>
     <g id="line2d_78">
      <g>
       <use href="#mc64cb7f3fb" x="450.397698" y="789.621087" style="stroke: #000000; stroke-width: 0.8"/>
      </g>
     </g>
     <g id="text_49">
      <g transform="translate(0 0.6590)"><text style="font-size: 10.500px; font-family: 'Liberation Sans', sans-serif; text-anchor: start; stroke: #000000; stroke-width: 0.100px; stroke-linejoin: round" x="442.704 448.933 452.251" y="804.2195" transform="rotate(-0.05 450.397698 804.219525)">1.6</text></g>
     </g>
    </g>
    <g id="xtick_22">
     <g id="line2d_79">
      <path d="M 526.180965 789.621087 
L 526.180965 511.367381 
" clip-path="url(#p61c717b0c8)" style="fill: none; stroke-dasharray: 2.96,1.28; stroke-dashoffset: 0; stroke: #b0b0b0; stroke-opacity: 0.7; stroke-width: 0.8"/>
     </g>
     <g id="line2d_80">
      <g>
       <use href="#mc64cb7f3fb" x="526.180965" y="789.621087" style="stroke: #000000; stroke-width: 0.8"/>
      </g>
     </g>
     <g id="text_50">
      <g transform="translate(0 0.6590)"><text style="font-size: 10.500px; font-family: 'Liberation Sans', sans-serif; text-anchor: start; stroke: #000000; stroke-width: 0.100px; stroke-linejoin: round" x="518.488 524.716 528.035" y="804.2195" transform="rotate(-0.05 526.180965 804.219525)">1.8</text></g>
     </g>
    </g>
    <g id="text_51">
     <text style="font-size: 12.600px; font-family: 'Liberation Sans', sans-serif; text-anchor: start; stroke: #000000; stroke-width: 0.120px; stroke-linejoin: round" x="253.856 261.748 269.889 275.594 287.042 289.991 296.918 304.553 312.134 321.460 325.706 330.071 333.722" y="819.4173" transform="rotate(-0.05 296.046129 819.417337)">EVLW-TPTD [l]</text>
    </g>
   </g>
   <g id="matplotlib.axis_6">
    <g id="ytick_17">
     <g id="line2d_81">
      <path d="M 39.538715 762.995436 
L 552.553542 762.995436 
" clip-path="url(#p61c717b0c8)" style="fill: none; stroke-dasharray: 2.96,1.28; stroke-dashoffset: 0; stroke: #b0b0b0; stroke-opacity: 0.7; stroke-width: 0.8"/>
     </g>
     <g id="line2d_82">
      <g>
       <use href="#mc382395a5d" x="39.538715" y="762.995436" style="stroke: #000000; stroke-width: 0.8"/>
      </g>
     </g>
     <g id="text_52">
      <g transform="translate(0 0.6590)"><text style="font-size: 10.500px; font-family: 'Liberation Sans', sans-serif; text-anchor: start; stroke: #000000; stroke-width: 0.100px; stroke-linejoin: round" x="16.891 23.120 26.438" y="766.7947" transform="rotate(-0.05 32.538715 766.794655)">0.6</text></g>
     </g>
    </g>
    <g id="ytick_18">
     <g id="line2d_83">
      <path d="M 39.538715 729.152854 
L 552.553542 729.152854 
" clip-path="url(#p61c717b0c8)" style="fill: none; stroke-dasharray: 2.96,1.28; stroke-dashoffset: 0; stroke: #b0b0b0; stroke-opacity: 0.7; stroke-width: 0.8"/>
     </g>
     <g id="line2d_84">
      <g>
       <use href="#mc382395a5d" x="39.538715" y="729.152854" style="stroke: #000000; stroke-width: 0.8"/>
      </g>
     </g>
     <g id="text_53">
      <g transform="translate(0 0.6590)"><text style="font-size: 10.500px; font-family: 'Liberation Sans', sans-serif; text-anchor: start; stroke: #000000; stroke-width: 0.100px; stroke-linejoin: round" x="16.891 23.120 26.438" y="732.9521" transform="rotate(-0.05 32.538715 732.952073)">0.8</text></g>
     </g>
    </g>
    <g id="ytick_19">
     <g id="line2d_85">
      <path d="M 39.538715 695.310273 
L 552.553542 695.310273 
" clip-path="url(#p61c717b0c8)" style="fill: none; stroke-dasharray: 2.96,1.28; stroke-dashoffset: 0; stroke: #b0b0b0; stroke-opacity: 0.7; stroke-width: 0.8"/>
     </g>
     <g id="line2d_86">
      <g>
       <use href="#mc382395a5d" x="39.538715" y="695.310273" style="stroke: #000000; stroke-width: 0.8"/>
      </g>
     </g>
     <g id="text_54">
      <g transform="translate(0 0.6590)"><text style="font-size: 10.500px; font-family: 'Liberation Sans', sans-serif; text-anchor: start; stroke: #000000; stroke-width: 0.100px; stroke-linejoin: round" x="16.891 23.120 26.438" y="699.1095" transform="rotate(-0.05 32.538715 699.109492)">1.0</text></g>
     </g>
    </g>
    <g id="ytick_20">
     <g id="line2d_87">
      <path d="M 39.538715 661.467691 
L 552.553542 661.467691 
" clip-path="url(#p61c717b0c8)" style="fill: none; stroke-dasharray: 2.96,1.28; stroke-dashoffset: 0; stroke: #b0b0b0; stroke-opacity: 0.7; stroke-width: 0.8"/>
     </g>
     <g id="line2d_88">
      <g>
       <use href="#mc382395a5d" x="39.538715" y="661.467691" style="stroke: #000000; stroke-width: 0.8"/>
      </g>
     </g>
     <g id="text_55">
      <g transform="translate(0 0.6590)"><text style="font-size: 10.500px; font-family: 'Liberation Sans', sans-serif; text-anchor: start; stroke: #000000; stroke-width: 0.100px; stroke-linejoin: round" x="16.891 23.120 26.438" y="665.2669" transform="rotate(-0.05 32.538715 665.26691)">1.2</text></g>
     </g>
    </g>
    <g id="ytick_21">
     <g id="line2d_89">
      <path d="M 39.538715 627.625109 
L 552.553542 627.625109 
" clip-path="url(#p61c717b0c8)" style="fill: none; stroke-dasharray: 2.96,1.28; stroke-dashoffset: 0; stroke: #b0b0b0; stroke-opacity: 0.7; stroke-width: 0.8"/>
     </g>
     <g id="line2d_90">
      <g>
       <use href="#mc382395a5d" x="39.538715" y="627.625109" style="stroke: #000000; stroke-width: 0.8"/>
      </g>
     </g>
     <g id="text_56">
      <g transform="translate(0 0.6590)"><text style="font-size: 10.500px; font-family: 'Liberation Sans', sans-serif; text-anchor: start; stroke: #000000; stroke-width: 0.100px; stroke-linejoin: round" x="16.891 23.120 26.438" y="631.4243" transform="rotate(-0.05 32.538715 631.424328)">1.4</text></g>
     </g>
    </g>
    <g id="ytick_22">
     <g id="line2d_91">
      <path d="M 39.538715 593.782528 
L 552.553542 593.782528 
" clip-path="url(#p61c717b0c8)" style="fill: none; stroke-dasharray: 2.96,1.28; stroke-dashoffset: 0; stroke: #b0b0b0; stroke-opacity: 0.7; stroke-width: 0.8"/>
     </g>
     <g id="line2d_92">
      <g>
       <use href="#mc382395a5d" x="39.538715" y="593.782528" style="stroke: #000000; stroke-width: 0.8"/>
      </g>
     </g>
     <g id="text_57">
      <g transform="translate(0 0.6590)"><text style="font-size: 10.500px; font-family: 'Liberation Sans', sans-serif; text-anchor: start; stroke: #000000; stroke-width: 0.100px; stroke-linejoin: round" x="16.891 23.120 26.438" y="597.5817" transform="rotate(-0.05 32.538715 597.581746)">1.6</text></g>
     </g>
    </g>
    <g id="ytick_23">
     <g id="line2d_93">
      <path d="M 39.538715 559.939946 
L 552.553542 559.939946 
" clip-path="url(#p61c717b0c8)" style="fill: none; stroke-dasharray: 2.96,1.28; stroke-dashoffset: 0; stroke: #b0b0b0; stroke-opacity: 0.7; stroke-width: 0.8"/>
     </g>
     <g id="line2d_94">
      <g>
       <use href="#mc382395a5d" x="39.538715" y="559.939946" style="stroke: #000000; stroke-width: 0.8"/>
      </g>
     </g>
     <g id="text_58">
      <g transform="translate(0 0.6590)"><text style="font-size: 10.500px; font-family: 'Liberation Sans', sans-serif; text-anchor: start; stroke: #000000; stroke-width: 0.100px; stroke-linejoin: round" x="16.891 23.120 26.438" y="563.7392" transform="rotate(-0.05 32.538715 563.739165)">1.8</text></g>
     </g>
    </g>
    <g id="ytick_24">
     <g id="line2d_95">
      <path d="M 39.538715 526.097364 
L 552.553542 526.097364 
" clip-path="url(#p61c717b0c8)" style="fill: none; stroke-dasharray: 2.96,1.28; stroke-dashoffset: 0; stroke: #b0b0b0; stroke-opacity: 0.7; stroke-width: 0.8"/>
     </g>
     <g id="line2d_96">
      <g>
       <use href="#mc382395a5d" x="39.538715" y="526.097364" style="stroke: #000000; stroke-width: 0.8"/>
      </g>
     </g>
     <g id="text_59">
      <g transform="translate(0 0.6590)"><text style="font-size: 10.500px; font-family: 'Liberation Sans', sans-serif; text-anchor: start; stroke: #000000; stroke-width: 0.100px; stroke-linejoin: round" x="16.891 23.120 26.438" y="529.8966" transform="rotate(-0.05 32.538715 529.896583)">2.0</text></g>
     </g>
    </g>
    <g id="text_60">
     <text style="font-size: 12.600px; font-family: 'Liberation Sans', sans-serif; text-anchor: start; stroke: #000000; stroke-width: 0.060px; stroke-linejoin: round" x="-39.175 -31.283 -23.142 -17.437 -5.989 -2.094 6.460 12.917 16.813 25.717 33.265 37.953 42.679 46.925 51.290 54.941" y="650.4942" transform="rotate(-90.05 10.139965 650.494234)">EVLW-CT-Corr [l]</text>
    </g>
   </g>
   <g id="line2d_97">
    <path d="M 62.749812 760.757757 
L 529.146397 553.831394 
" clip-path="url(#p61c717b0c8)" style="fill: none; stroke-dasharray: 5.55,2.4; stroke-dashoffset: 0; stroke: #4682b4; stroke-width: 1.5"/>
   </g>
   <g id="patch_14">
    <path d="M 39.538715 789.621087 
L 39.538715 511.367381 
" style="fill: none; stroke: #000000; stroke-width: 0.8; stroke-linejoin: miter; stroke-linecap: square"/>
   </g>
   <g id="patch_15">
    <path d="M 552.553542 789.621087 
L 552.553542 511.367381 
" style="fill: none; stroke: #000000; stroke-width: 0.8; stroke-linejoin: miter; stroke-linecap: square"/>
   </g>
   <g id="patch_16">
    <path d="M 39.538715 789.621087 
L 552.553542 789.621087 
" style="fill: none; stroke: #000000; stroke-width: 0.8; stroke-linejoin: miter; stroke-linecap: square"/>
   </g>
   <g id="patch_17">
    <path d="M 39.538715 511.367381 
L 552.553542 511.367381 
" style="fill: none; stroke: #000000; stroke-width: 0.8; stroke-linejoin: miter; stroke-linecap: square"/>
   </g>
   <g id="text_61">
    <g id="patch_18">
     <path d="M 65.189456 553.931191 
L 179.682581 553.931191 
Q 183.282581 553.931191 183.282581 550.331191 
L 183.282581 525.280066 
Q 183.282581 521.680066 179.682581 521.680066 
L 65.189456 521.680066 
Q 61.589456 521.680066 61.589456 525.280066 
L 61.589456 550.331191 
Q 61.589456 553.931191 65.189456 553.931191 
z
" style="fill: #ffffff; stroke: #000000; stroke-linejoin: miter"/>
    </g>
    <text style="font-size: 12.600px; font-family: 'Liberation Sans', sans-serif; text-anchor: start; stroke: #000000; stroke-width: 0.120px; stroke-linejoin: round" x="-0.402 7.923 15.431 22.807 30.365 35.274 46.541 54.026 61.497 65.521 70.247 75.247 84.122 88.088 95.575 99.541 107.182" y="0.0000" transform="translate(65.189456 534.398191) rotate(-0.05)">Spearman r = 0.63</text>
    <text style="font-size: 12.600px; font-family: 'Liberation Sans', sans-serif; text-anchor: start; stroke: #000000; stroke-width: 0.120px; stroke-linejoin: round" x="0.298 7.778 12.778 21.653 25.619 33.107 37.072 44.713 52.228 59.500 64.072 71.713" y="0.0000" transform="translate(65.189456 547.835566) rotate(-0.05)">p = 1.39e-03</text>
   </g>
   <g id="text_62">
    <g transform="translate(0 0.8237)"><text style="font-weight: 700; font-size: 16.800px; font-family: 'Liberation Sans', sans-serif; text-anchor: start; stroke: #000000; stroke-width: 0.550px; stroke-linejoin: round" x="30.139" y="480.2145" transform="rotate(-0.05 39.538715 480.21451)">c</text></g>
   </g>
   <g id="text_63">
    <text style="font-size: 14.700px; font-family: 'Liberation Sans', sans-serif; text-anchor: start; stroke: #000000; stroke-width: 0.140px; stroke-linejoin: round" x="182.467 191.994 199.724 208.810 214.294 219.288 228.115 233.784 242.640 246.405 255.482 260.447 265.123 276.483 280.763 285.887 294.603 298.418 308.195 316.941 325.911 331.195 339.558 346.855 354.499 358.264 366.981 375.697 379.772 388.077 391.996 400.741" y="505.3674" transform="rotate(-0.05 296.046129 505.367381)">Scatterplot with Regression Line</text>
   </g>
  </g>
  <g id="axes_4">
   <g id="patch_19">
    <path d="M 611.69687 789.621087 
L 1124.546952 789.621087 
L 1124.546952 511.367381 
L 611.69687 511.367381 
z
" style="fill: #ffffff"/>
   </g>
   <g id="PathCollection_4">
    <g clip-path="url(#pfb15618886)">
     <use href="#m68a2e3ce47" x="634.768893" y="656.143552" style="fill: #808080; fill-opacity: 0.7; stroke: #000000; stroke-opacity: 0.7"/>
     <use href="#m68a2e3ce47" x="651.481501" y="602.633266" style="fill: #808080; fill-opacity: 0.7; stroke: #000000; stroke-opacity: 0.7"/>
     <use href="#m68a2e3ce47" x="814.338219" y="735.153955" style="fill: #808080; fill-opacity: 0.7; stroke: #000000; stroke-opacity: 0.7"/>
     <use href="#m68a2e3ce47" x="706.720694" y="627.37578" style="fill: #808080; fill-opacity: 0.7; stroke: #000000; stroke-opacity: 0.7"/>
     <use href="#m68a2e3ce47" x="805.151561" y="709.111868" style="fill: #808080; fill-opacity: 0.7; stroke: #000000; stroke-opacity: 0.7"/>
     <use href="#m68a2e3ce47" x="692.289449" y="598.312898" style="fill: #808080; fill-opacity: 0.7; stroke: #000000; stroke-opacity: 0.7"/>
     <use href="#m68a2e3ce47" x="685.530838" y="566.142792" style="fill: #808080; fill-opacity: 0.7; stroke: #000000; stroke-opacity: 0.7"/>
     <use href="#m68a2e3ce47" x="744.71768" y="619.687857" style="fill: #808080; fill-opacity: 0.7; stroke: #000000; stroke-opacity: 0.7"/>
     <use href="#m68a2e3ce47" x="880.080456" y="751.968196" style="fill: #808080; fill-opacity: 0.7; stroke: #000000; stroke-opacity: 0.7"/>
     <use href="#m68a2e3ce47" x="864.201066" y="714.795893" style="fill: #808080; fill-opacity: 0.7; stroke: #000000; stroke-opacity: 0.7"/>
     <use href="#m68a2e3ce47" x="719.266004" y="572.510273" style="fill: #808080; fill-opacity: 0.7; stroke: #000000; stroke-opacity: 0.7"/>
     <use href="#m68a2e3ce47" x="807.452899" y="642.517713" style="fill: #808080; fill-opacity: 0.7; stroke: #000000; stroke-opacity: 0.7"/>
     <use href="#m68a2e3ce47" x="917.869326" y="750.611717" style="fill: #808080; fill-opacity: 0.7; stroke: #000000; stroke-opacity: 0.7"/>
     <use href="#m68a2e3ce47" x="776.27181" y="609.474712" style="fill: #808080; fill-opacity: 0.7; stroke: #000000; stroke-opacity: 0.7"/>
     <use href="#m68a2e3ce47" x="783.977761" y="584.209025" style="fill: #808080; fill-opacity: 0.7; stroke: #000000; stroke-opacity: 0.7"/>
     <use href="#m68a2e3ce47" x="999.806556" y="777.397125" style="fill: #808080; fill-opacity: 0.7; stroke: #000000; stroke-opacity: 0.7"/>
     <use href="#m68a2e3ce47" x="940.939991" y="710.942977" style="fill: #808080; fill-opacity: 0.7; stroke: #000000; stroke-opacity: 0.7"/>
     <use href="#m68a2e3ce47" x="872.502948" y="617.461962" style="fill: #808080; fill-opacity: 0.7; stroke: #000000; stroke-opacity: 0.7"/>
     <use href="#m68a2e3ce47" x="833.23337" y="567.510667" style="fill: #808080; fill-opacity: 0.7; stroke: #000000; stroke-opacity: 0.7"/>
     <use href="#m68a2e3ce47" x="911.985541" y="585.849439" style="fill: #808080; fill-opacity: 0.7; stroke: #000000; stroke-opacity: 0.7"/>
     <use href="#m68a2e3ce47" x="982.896008" y="654.095699" style="fill: #808080; fill-opacity: 0.7; stroke: #000000; stroke-opacity: 0.7"/>
     <use href="#m68a2e3ce47" x="1020.258018" y="678.007201" style="fill: #808080; fill-opacity: 0.7; stroke: #000000; stroke-opacity: 0.7"/>
     <use href="#m68a2e3ce47" x="1100.971425" y="683.52791" style="fill: #808080; fill-opacity: 0.7; stroke: #000000; stroke-opacity: 0.7"/>
    </g>
   </g>
   <g id="matplotlib.axis_7">
    <g id="xtick_23">
     <g id="line2d_98">
      <path d="M 633.810458 789.621087 
L 633.810458 511.367381 
" clip-path="url(#pfb15618886)" style="fill: none; stroke-dasharray: 2.96,1.28; stroke-dashoffset: 0; stroke: #b0b0b0; stroke-opacity: 0.7; stroke-width: 0.8"/>
     </g>
     <g id="line2d_99">
      <g>
       <use href="#mc64cb7f3fb" x="633.810458" y="789.621087" style="stroke: #000000; stroke-width: 0.8"/>
      </g>
     </g>
     <g id="text_64">
      <g transform="translate(0 0.6590)"><text style="font-size: 10.500px; font-family: 'Liberation Sans', sans-serif; text-anchor: start; stroke: #000000; stroke-width: 0.100px; stroke-linejoin: round" x="626.117 632.346 635.664" y="804.2195" transform="rotate(-0.05 633.810458 804.219525)">0.6</text></g>
     </g>
    </g>
    <g id="xtick_24">
     <g id="line2d_100">
      <path d="M 705.029745 789.621087 
L 705.029745 511.367381 
" clip-path="url(#pfb15618886)" style="fill: none; stroke-dasharray: 2.96,1.28; stroke-dashoffset: 0; stroke: #b0b0b0; stroke-opacity: 0.7; stroke-width: 0.8"/>
     </g>
     <g id="line2d_101">
      <g>
       <use href="#mc64cb7f3fb" x="705.029745" y="789.621087" style="stroke: #000000; stroke-width: 0.8"/>
      </g>
     </g>
     <g id="text_65">
      <g transform="translate(0 0.6590)"><text style="font-size: 10.500px; font-family: 'Liberation Sans', sans-serif; text-anchor: start; stroke: #000000; stroke-width: 0.100px; stroke-linejoin: round" x="697.337 703.565 706.883" y="804.2195" transform="rotate(-0.05 705.029745 804.219525)">0.8</text></g>
     </g>
    </g>
    <g id="xtick_25">
     <g id="line2d_102">
      <path d="M 776.249031 789.621087 
L 776.249031 511.367381 
" clip-path="url(#pfb15618886)" style="fill: none; stroke-dasharray: 2.96,1.28; stroke-dashoffset: 0; stroke: #b0b0b0; stroke-opacity: 0.7; stroke-width: 0.8"/>
     </g>
     <g id="line2d_103">
      <g>
       <use href="#mc64cb7f3fb" x="776.249031" y="789.621087" style="stroke: #000000; stroke-width: 0.8"/>
      </g>
     </g>
     <g id="text_66">
      <g transform="translate(0 0.6590)"><text style="font-size: 10.500px; font-family: 'Liberation Sans', sans-serif; text-anchor: start; stroke: #000000; stroke-width: 0.100px; stroke-linejoin: round" x="768.556 774.785 778.103" y="804.2195" transform="rotate(-0.05 776.249031 804.219525)">1.0</text></g>
     </g>
    </g>
    <g id="xtick_26">
     <g id="line2d_104">
      <path d="M 847.468318 789.621087 
L 847.468318 511.367381 
" clip-path="url(#pfb15618886)" style="fill: none; stroke-dasharray: 2.96,1.28; stroke-dashoffset: 0; stroke: #b0b0b0; stroke-opacity: 0.7; stroke-width: 0.8"/>
     </g>
     <g id="line2d_105">
      <g>
       <use href="#mc64cb7f3fb" x="847.468318" y="789.621087" style="stroke: #000000; stroke-width: 0.8"/>
      </g>
     </g>
     <g id="text_67">
      <g transform="translate(0 0.6590)"><text style="font-size: 10.500px; font-family: 'Liberation Sans', sans-serif; text-anchor: start; stroke: #000000; stroke-width: 0.100px; stroke-linejoin: round" x="839.775 846.004 849.322" y="804.2195" transform="rotate(-0.05 847.468318 804.219525)">1.2</text></g>
     </g>
    </g>
    <g id="xtick_27">
     <g id="line2d_106">
      <path d="M 918.687604 789.621087 
L 918.687604 511.367381 
" clip-path="url(#pfb15618886)" style="fill: none; stroke-dasharray: 2.96,1.28; stroke-dashoffset: 0; stroke: #b0b0b0; stroke-opacity: 0.7; stroke-width: 0.8"/>
     </g>
     <g id="line2d_107">
      <g>
       <use href="#mc64cb7f3fb" x="918.687604" y="789.621087" style="stroke: #000000; stroke-width: 0.8"/>
      </g>
     </g>
     <g id="text_68">
      <g transform="translate(0 0.6590)"><text style="font-size: 10.500px; font-family: 'Liberation Sans', sans-serif; text-anchor: start; stroke: #000000; stroke-width: 0.100px; stroke-linejoin: round" x="910.994 917.223 920.541" y="804.2195" transform="rotate(-0.05 918.687604 804.219525)">1.4</text></g>
     </g>
    </g>
    <g id="xtick_28">
     <g id="line2d_108">
      <path d="M 989.906891 789.621087 
L 989.906891 511.367381 
" clip-path="url(#pfb15618886)" style="fill: none; stroke-dasharray: 2.96,1.28; stroke-dashoffset: 0; stroke: #b0b0b0; stroke-opacity: 0.7; stroke-width: 0.8"/>
     </g>
     <g id="line2d_109">
      <g>
       <use href="#mc64cb7f3fb" x="989.906891" y="789.621087" style="stroke: #000000; stroke-width: 0.8"/>
      </g>
     </g>
     <g id="text_69">
      <g transform="translate(0 0.6590)"><text style="font-size: 10.500px; font-family: 'Liberation Sans', sans-serif; text-anchor: start; stroke: #000000; stroke-width: 0.100px; stroke-linejoin: round" x="982.214 988.442 991.761" y="804.2195" transform="rotate(-0.05 989.906891 804.219525)">1.6</text></g>
     </g>
    </g>
    <g id="xtick_29">
     <g id="line2d_110">
      <path d="M 1061.126178 789.621087 
L 1061.126178 511.367381 
" clip-path="url(#pfb15618886)" style="fill: none; stroke-dasharray: 2.96,1.28; stroke-dashoffset: 0; stroke: #b0b0b0; stroke-opacity: 0.7; stroke-width: 0.8"/>
     </g>
     <g id="line2d_111">
      <g>
       <use href="#mc64cb7f3fb" x="1061.126178" y="789.621087" style="stroke: #000000; stroke-width: 0.8"/>
      </g>
     </g>
     <g id="text_70">
      <g transform="translate(0 0.6590)"><text style="font-size: 10.500px; font-family: 'Liberation Sans', sans-serif; text-anchor: start; stroke: #000000; stroke-width: 0.100px; stroke-linejoin: round" x="1053.433 1059.662 1062.980" y="804.2195" transform="rotate(-0.05 1061.126178 804.219525)">1.8</text></g>
     </g>
    </g>
    <g id="text_71">
     <text style="font-size: 12.600px; font-family: 'Liberation Sans', sans-serif; text-anchor: start; stroke: #000000; stroke-width: 0.120px; stroke-linejoin: round" x="796.886 804.840 811.735 819.310 824.049 831.540 839.048 846.411 850.230 857.772 861.786 865.364 875.985 883.361 890.524 897.097 904.779 909.282 916.462 922.895 926.793 931.507 934.809" y="819.4173" transform="rotate(-0.05 868.121911 819.417337)">Average of Measures (l)</text>
    </g>
   </g>
   <g id="matplotlib.axis_8">
    <g id="ytick_25">
     <g id="line2d_112">
      <path d="M 611.69687 786.981706 
L 1124.546952 786.981706 
" clip-path="url(#pfb15618886)" style="fill: none; stroke-dasharray: 2.96,1.28; stroke-dashoffset: 0; stroke: #b0b0b0; stroke-opacity: 0.7; stroke-width: 0.8"/>
     </g>
     <g id="line2d_113">
      <g>
       <use href="#mc382395a5d" x="611.69687" y="786.981706" style="stroke: #000000; stroke-width: 0.8"/>
      </g>
     </g>
     <g id="text_72">
      <g transform="translate(0 0.6590)"><text style="font-size: 10.500px; font-family: 'Liberation Sans', sans-serif; text-anchor: start; stroke: #000000; stroke-width: 0.100px; stroke-linejoin: round" x="581.536 589.049 595.278 598.596" y="790.7809" transform="rotate(-0.05 604.69687 790.780925)">−0.8</text></g>
     </g>
    </g>
    <g id="ytick_26">
     <g id="line2d_114">
      <path d="M 611.69687 752.023014 
L 1124.546952 752.023014 
" clip-path="url(#pfb15618886)" style="fill: none; stroke-dasharray: 2.96,1.28; stroke-dashoffset: 0; stroke: #b0b0b0; stroke-opacity: 0.7; stroke-width: 0.8"/>
     </g>
     <g id="line2d_115">
      <g>
       <use href="#mc382395a5d" x="611.69687" y="752.023014" style="stroke: #000000; stroke-width: 0.8"/>
      </g>
     </g>
     <g id="text_73">
      <g transform="translate(0 0.6590)"><text style="font-size: 10.500px; font-family: 'Liberation Sans', sans-serif; text-anchor: start; stroke: #000000; stroke-width: 0.100px; stroke-linejoin: round" x="581.536 589.049 595.278 598.596" y="755.8222" transform="rotate(-0.05 604.69687 755.822233)">−0.6</text></g>
     </g>
    </g>
    <g id="ytick_27">
     <g id="line2d_116">
      <path d="M 611.69687 717.064323 
L 1124.546952 717.064323 
" clip-path="url(#pfb15618886)" style="fill: none; stroke-dasharray: 2.96,1.28; stroke-dashoffset: 0; stroke: #b0b0b0; stroke-opacity: 0.7; stroke-width: 0.8"/>
     </g>
     <g id="line2d_117">
      <g>
       <use href="#mc382395a5d" x="611.69687" y="717.064323" style="stroke: #000000; stroke-width: 0.8"/>
      </g>
     </g>
     <g id="text_74">
      <g transform="translate(0 0.6590)"><text style="font-size: 10.500px; font-family: 'Liberation Sans', sans-serif; text-anchor: start; stroke: #000000; stroke-width: 0.100px; stroke-linejoin: round" x="581.536 589.049 595.278 598.596" y="720.8635" transform="rotate(-0.05 604.69687 720.863541)">−0.4</text></g>
     </g>
    </g>
    <g id="ytick_28">
     <g id="line2d_118">
      <path d="M 611.69687 682.105631 
L 1124.546952 682.105631 
" clip-path="url(#pfb15618886)" style="fill: none; stroke-dasharray: 2.96,1.28; stroke-dashoffset: 0; stroke: #b0b0b0; stroke-opacity: 0.7; stroke-width: 0.8"/>
     </g>
     <g id="line2d_119">
      <g>
       <use href="#mc382395a5d" x="611.69687" y="682.105631" style="stroke: #000000; stroke-width: 0.8"/>
      </g>
     </g>
     <g id="text_75">
      <g transform="translate(0 0.6590)"><text style="font-size: 10.500px; font-family: 'Liberation Sans', sans-serif; text-anchor: start; stroke: #000000; stroke-width: 0.100px; stroke-linejoin: round" x="581.536 589.049 595.278 598.596" y="685.9049" transform="rotate(-0.05 604.69687 685.90485)">−0.2</text></g>
     </g>
    </g>
    <g id="ytick_29">
     <g id="line2d_120">
      <path d="M 611.69687 647.146939 
L 1124.546952 647.146939 
" clip-path="url(#pfb15618886)" style="fill: none; stroke-dasharray: 2.96,1.28; stroke-dashoffset: 0; stroke: #b0b0b0; stroke-opacity: 0.7; stroke-width: 0.8"/>
     </g>
     <g id="line2d_121">
      <g>
       <use href="#mc382395a5d" x="611.69687" y="647.146939" style="stroke: #000000; stroke-width: 0.8"/>
      </g>
     </g>
     <g id="text_76">
      <g transform="translate(0 0.6590)"><text style="font-size: 10.500px; font-family: 'Liberation Sans', sans-serif; text-anchor: start; stroke: #000000; stroke-width: 0.100px; stroke-linejoin: round" x="589.049 595.278 598.596" y="650.9462" transform="rotate(-0.05 604.69687 650.946158)">0.0</text></g>
     </g>
    </g>
    <g id="ytick_30">
     <g id="line2d_122">
      <path d="M 611.69687 612.188247 
L 1124.546952 612.188247 
" clip-path="url(#pfb15618886)" style="fill: none; stroke-dasharray: 2.96,1.28; stroke-dashoffset: 0; stroke: #b0b0b0; stroke-opacity: 0.7; stroke-width: 0.8"/>
     </g>
     <g id="line2d_123">
      <g>
       <use href="#mc382395a5d" x="611.69687" y="612.188247" style="stroke: #000000; stroke-width: 0.8"/>
      </g>
     </g>
     <g id="text_77">
      <g transform="translate(0 0.6590)"><text style="font-size: 10.500px; font-family: 'Liberation Sans', sans-serif; text-anchor: start; stroke: #000000; stroke-width: 0.100px; stroke-linejoin: round" x="589.049 595.278 598.596" y="615.9875" transform="rotate(-0.05 604.69687 615.987466)">0.2</text></g>
     </g>
    </g>
    <g id="ytick_31">
     <g id="line2d_124">
      <path d="M 611.69687 577.229556 
L 1124.546952 577.229556 
" clip-path="url(#pfb15618886)" style="fill: none; stroke-dasharray: 2.96,1.28; stroke-dashoffset: 0; stroke: #b0b0b0; stroke-opacity: 0.7; stroke-width: 0.8"/>
     </g>
     <g id="line2d_125">
      <g>
       <use href="#mc382395a5d" x="611.69687" y="577.229556" style="stroke: #000000; stroke-width: 0.8"/>
      </g>
     </g>
     <g id="text_78">
      <g transform="translate(0 0.6590)"><text style="font-size: 10.500px; font-family: 'Liberation Sans', sans-serif; text-anchor: start; stroke: #000000; stroke-width: 0.100px; stroke-linejoin: round" x="589.049 595.278 598.596" y="581.0288" transform="rotate(-0.05 604.69687 581.028775)">0.4</text></g>
     </g>
    </g>
    <g id="ytick_32">
     <g id="line2d_126">
      <path d="M 611.69687 542.270864 
L 1124.546952 542.270864 
" clip-path="url(#pfb15618886)" style="fill: none; stroke-dasharray: 2.96,1.28; stroke-dashoffset: 0; stroke: #b0b0b0; stroke-opacity: 0.7; stroke-width: 0.8"/>
     </g>
     <g id="line2d_127">
      <g>
       <use href="#mc382395a5d" x="611.69687" y="542.270864" style="stroke: #000000; stroke-width: 0.8"/>
      </g>
     </g>
     <g id="text_79">
      <g transform="translate(0 0.6590)"><text style="font-size: 10.500px; font-family: 'Liberation Sans', sans-serif; text-anchor: start; stroke: #000000; stroke-width: 0.100px; stroke-linejoin: round" x="589.049 595.278 598.596" y="546.0701" transform="rotate(-0.05 604.69687 546.070083)">0.6</text></g>
     </g>
    </g>
    <g id="text_80">
     <text style="font-size: 12.600px; font-family: 'Liberation Sans', sans-serif; text-anchor: start; stroke: #000000; stroke-width: 0.060px; stroke-linejoin: round" x="476.272 485.709 489.131 493.350 497.391 504.966 509.469 516.971 524.431 531.063 538.426 542.383 549.891 557.700 562.153 571.797 579.188 586.690 594.161 597.738 608.360 615.736 622.899 629.471 637.153 641.657 648.836 655.270 659.168 663.881 667.184" y="650.4942" transform="rotate(-90.05 573.918432 650.494234)">Difference between Measures (l)</text>
    </g>
   </g>
   <g id="line2d_128">
    <path d="M 611.69687 652.565536 
L 1124.546952 652.565536 
" clip-path="url(#pfb15618886)" style="fill: none; stroke-dasharray: 5.55,2.4; stroke-dashoffset: 0; stroke: #4682b4; stroke-width: 1.5"/>
   </g>
   <g id="line2d_129">
    <path d="M 611.69687 523.043584 
L 1124.546952 523.043584 
" clip-path="url(#pfb15618886)" style="fill: none; stroke-dasharray: 4.44,1.92; stroke-dashoffset: 0; stroke: #cd5c5c; stroke-opacity: 0.8; stroke-width: 1.2"/>
   </g>
   <g id="line2d_130">
    <path d="M 611.69687 781.737902 
L 1124.546952 781.737902 
" clip-path="url(#pfb15618886)" style="fill: none; stroke-dasharray: 4.44,1.92; stroke-dashoffset: 0; stroke: #cd5c5c; stroke-opacity: 0.8; stroke-width: 1.2"/>
   </g>
   <g id="patch_20">
    <path d="M 611.69687 789.621087 
L 611.69687 511.367381 
" style="fill: none; stroke: #000000; stroke-width: 0.8; stroke-linejoin: miter; stroke-linecap: square"/>
   </g>
   <g id="patch_21">
    <path d="M 1124.546952 789.621087 
L 1124.546952 511.367381 
" style="fill: none; stroke: #000000; stroke-width: 0.8; stroke-linejoin: miter; stroke-linecap: square"/>
   </g>
   <g id="patch_22">
    <path d="M 611.69687 789.621087 
L 1124.546952 789.621087 
" style="fill: none; stroke: #000000; stroke-width: 0.8; stroke-linejoin: miter; stroke-linecap: square"/>
   </g>
   <g id="patch_23">
    <path d="M 611.69687 511.367381 
L 1124.546952 511.367381 
" style="fill: none; stroke: #000000; stroke-width: 0.8; stroke-linejoin: miter; stroke-linecap: square"/>
   </g>
   <g id="text_81">
    <text style="font-size: 10.500px; font-family: 'Liberation Sans', sans-serif; text-anchor: start; fill: #cd5c5c; stroke: #cd5c5c; stroke-width: 0.050px; stroke-linejoin: round" x="658.516 666.230 672.573 678.820 685.127 689.060 691.982 697.709 703.613 710.669 713.928 718.756 726.268 732.497 735.815 742.175 748.403 751.132 757.863 765.709 769.639 772.919 776.237 782.466 785.784 792.143 798.372 801.652" y="537.0469" transform="rotate(-0.05 658.647595 537.046878)">Upper LoA (+1.96 SD): 0.71 l</text>
   </g>
   <g id="text_82">
    <text style="font-size: 10.500px; font-family: 'Liberation Sans', sans-serif; text-anchor: start; fill: #4682b4; stroke: #4682b4; stroke-width: 0.050px; stroke-linejoin: round" x="658.588 667.429 673.573 679.803 686.028 689.014 696.167 698.870 704.831 710.295 713.575 716.688 720.503 726.731 730.050 736.409 742.638 745.917" y="645.6463" transform="rotate(-0.05 658.647595 645.646261)">Mean Bias: -0.03 l</text>
   </g>
   <g id="text_83">
    <text style="font-size: 10.500px; font-family: 'Liberation Sans', sans-serif; text-anchor: start; fill: #cd5c5c; stroke: #cd5c5c; stroke-width: 0.050px; stroke-linejoin: round" x="658.513 664.240 670.524 678.570 684.877 688.810 691.732 697.459 703.363 710.419 713.678 717.438 721.253 727.481 730.800 737.159 743.388 746.117 752.847 760.694 764.624 767.903 771.016 774.831 781.060 784.378 790.737 796.966 800.245" y="774.8186" transform="rotate(-0.05 658.647595 774.818627)">Lower LoA (-1.96 SD): -0.77 l</text>
   </g>
   <g id="text_84">
    <g transform="translate(0 0.8237)"><text style="font-weight: 700; font-size: 16.800px; font-family: 'Liberation Sans', sans-serif; text-anchor: start; stroke: #000000; stroke-width: 0.550px; stroke-linejoin: round" x="600.855" y="480.2145" transform="rotate(-0.05 611.69687 480.21451)">d</text></g>
   </g>
   <g id="text_85">
    <text style="font-size: 14.700px; font-family: 'Liberation Sans', sans-serif; text-anchor: start; stroke: #000000; stroke-width: 0.140px; stroke-linejoin: round" x="805.245 815.277 819.050 827.775 836.657 845.275 849.872 859.887 864.167 869.631 882.784 891.509 900.225 903.804 913.246 917.011 926.089" y="505.3674" transform="rotate(-0.05 868.121911 505.367381)">Bland-Altman Plot</text>
   </g>
  </g>
  <g id="axes_5">
   <g id="patch_24">
    <path d="M 39.538715 1217.957166 
L 552.553542 1217.957166 
L 552.553542 939.70346 
L 39.538715 939.70346 
z
" style="fill: #ffffff"/>
   </g>
   <g id="PathCollection_5">
    <g clip-path="url(#pe1c3ee5b1e)">
     <use href="#m68a2e3ce47" x="62.749812" y="1194.395189" style="fill: #808080; fill-opacity: 0.7; stroke: #000000; stroke-opacity: 0.7"/>
     <use href="#m68a2e3ce47" x="138.533079" y="1177.097174" style="fill: #808080; fill-opacity: 0.7; stroke: #000000; stroke-opacity: 0.7"/>
     <use href="#m68a2e3ce47" x="168.187401" y="1078.745602" style="fill: #808080; fill-opacity: 0.7; stroke: #000000; stroke-opacity: 0.7"/>
     <use href="#m68a2e3ce47" x="170.493848" y="1165.070935" style="fill: #808080; fill-opacity: 0.7; stroke: #000000; stroke-opacity: 0.7"/>
     <use href="#m68a2e3ce47" x="186.638979" y="1101.644879" style="fill: #808080; fill-opacity: 0.7; stroke: #000000; stroke-opacity: 0.7"/>
     <use href="#m68a2e3ce47" x="186.638979" y="1157.163271" style="fill: #808080; fill-opacity: 0.7; stroke: #000000; stroke-opacity: 0.7"/>
     <use href="#m68a2e3ce47" x="214.316346" y="1205.927199" style="fill: #808080; fill-opacity: 0.7; stroke: #000000; stroke-opacity: 0.7"/>
     <use href="#m68a2e3ce47" x="219.258733" y="1135.746681" style="fill: #808080; fill-opacity: 0.7; stroke: #000000; stroke-opacity: 0.7"/>
     <use href="#m68a2e3ce47" x="219.917718" y="1010.377257" style="fill: #808080; fill-opacity: 0.7; stroke: #000000; stroke-opacity: 0.7"/>
     <use href="#m68a2e3ce47" x="243.311683" y="1052.880951" style="fill: #808080; fill-opacity: 0.7; stroke: #000000; stroke-opacity: 0.7"/>
     <use href="#m68a2e3ce47" x="243.311683" y="1163.588248" style="fill: #808080; fill-opacity: 0.7; stroke: #000000; stroke-opacity: 0.7"/>
     <use href="#m68a2e3ce47" x="261.269022" y="1115.812777" style="fill: #808080; fill-opacity: 0.7; stroke: #000000; stroke-opacity: 0.7"/>
     <use href="#m68a2e3ce47" x="261.598515" y="1020.920809" style="fill: #808080; fill-opacity: 0.7; stroke: #000000; stroke-opacity: 0.7"/>
     <use href="#m68a2e3ce47" x="263.904962" y="1137.229368" style="fill: #808080; fill-opacity: 0.7; stroke: #000000; stroke-opacity: 0.7"/>
     <use href="#m68a2e3ce47" x="299.490149" y="1149.255607" style="fill: #808080; fill-opacity: 0.7; stroke: #000000; stroke-opacity: 0.7"/>
     <use href="#m68a2e3ce47" x="319.753935" y="967.873562" style="fill: #808080; fill-opacity: 0.7; stroke: #000000; stroke-opacity: 0.7"/>
     <use href="#m68a2e3ce47" x="329.14447" y="996.044616" style="fill: #808080; fill-opacity: 0.7; stroke: #000000; stroke-opacity: 0.7"/>
     <use href="#m68a2e3ce47" x="357.645569" y="1102.79808" style="fill: #808080; fill-opacity: 0.7; stroke: #000000; stroke-opacity: 0.7"/>
     <use href="#m68a2e3ce47" x="370.001536" y="1127.180045" style="fill: #808080; fill-opacity: 0.7; stroke: #000000; stroke-opacity: 0.7"/>
     <use href="#m68a2e3ce47" x="433.923075" y="1114.000604" style="fill: #808080; fill-opacity: 0.7; stroke: #000000; stroke-opacity: 0.7"/>
     <use href="#m68a2e3ce47" x="435.405791" y="1055.02261" style="fill: #808080; fill-opacity: 0.7; stroke: #000000; stroke-opacity: 0.7"/>
     <use href="#m68a2e3ce47" x="449.244474" y="1013.342631" style="fill: #808080; fill-opacity: 0.7; stroke: #000000; stroke-opacity: 0.7"/>
     <use href="#m68a2e3ce47" x="529.146397" y="951.399262" style="fill: #808080; fill-opacity: 0.7; stroke: #000000; stroke-opacity: 0.7"/>
    </g>
   </g>
   <g id="matplotlib.axis_9">
    <g id="xtick_30">
     <g id="line2d_131">
      <path d="M 71.481362 1217.957166 
L 71.481362 939.70346 
" clip-path="url(#pe1c3ee5b1e)" style="fill: none; stroke-dasharray: 2.96,1.28; stroke-dashoffset: 0; stroke: #b0b0b0; stroke-opacity: 0.7; stroke-width: 0.8"/>
     </g>
     <g id="line2d_132">
      <g>
       <use href="#mc64cb7f3fb" x="71.481362" y="1217.957166" style="stroke: #000000; stroke-width: 0.8"/>
      </g>
     </g>
     <g id="text_86">
      <g transform="translate(0 0.6590)"><text style="font-size: 10.500px; font-family: 'Liberation Sans', sans-serif; text-anchor: start; stroke: #000000; stroke-width: 0.100px; stroke-linejoin: round" x="63.788 70.017 73.335" y="1232.5556" transform="rotate(-0.05 71.481362 1232.555604)">0.6</text></g>
     </g>
    </g>
    <g id="xtick_31">
     <g id="line2d_133">
      <path d="M 147.264629 1217.957166 
L 147.264629 939.70346 
" clip-path="url(#pe1c3ee5b1e)" style="fill: none; stroke-dasharray: 2.96,1.28; stroke-dashoffset: 0; stroke: #b0b0b0; stroke-opacity: 0.7; stroke-width: 0.8"/>
     </g>
     <g id="line2d_134">
      <g>
       <use href="#mc64cb7f3fb" x="147.264629" y="1217.957166" style="stroke: #000000; stroke-width: 0.8"/>
      </g>
     </g>
     <g id="text_87">
      <g transform="translate(0 0.6590)"><text style="font-size: 10.500px; font-family: 'Liberation Sans', sans-serif; text-anchor: start; stroke: #000000; stroke-width: 0.100px; stroke-linejoin: round" x="139.571 145.800 149.118" y="1232.5556" transform="rotate(-0.05 147.264629 1232.555604)">0.8</text></g>
     </g>
    </g>
    <g id="xtick_32">
     <g id="line2d_135">
      <path d="M 223.047896 1217.957166 
L 223.047896 939.70346 
" clip-path="url(#pe1c3ee5b1e)" style="fill: none; stroke-dasharray: 2.96,1.28; stroke-dashoffset: 0; stroke: #b0b0b0; stroke-opacity: 0.7; stroke-width: 0.8"/>
     </g>
     <g id="line2d_136">
      <g>
       <use href="#mc64cb7f3fb" x="223.047896" y="1217.957166" style="stroke: #000000; stroke-width: 0.8"/>
      </g>
     </g>
     <g id="text_88">
      <g transform="translate(0 0.6590)"><text style="font-size: 10.500px; font-family: 'Liberation Sans', sans-serif; text-anchor: start; stroke: #000000; stroke-width: 0.100px; stroke-linejoin: round" x="215.355 221.583 224.902" y="1232.5556" transform="rotate(-0.05 223.047896 1232.555604)">1.0</text></g>
     </g>
    </g>
    <g id="xtick_33">
     <g id="line2d_137">
      <path d="M 298.831164 1217.957166 
L 298.831164 939.70346 
" clip-path="url(#pe1c3ee5b1e)" style="fill: none; stroke-dasharray: 2.96,1.28; stroke-dashoffset: 0; stroke: #b0b0b0; stroke-opacity: 0.7; stroke-width: 0.8"/>
     </g>
     <g id="line2d_138">
      <g>
       <use href="#mc64cb7f3fb" x="298.831164" y="1217.957166" style="stroke: #000000; stroke-width: 0.8"/>
      </g>
     </g>
     <g id="text_89">
      <g transform="translate(0 0.6590)"><text style="font-size: 10.500px; font-family: 'Liberation Sans', sans-serif; text-anchor: start; stroke: #000000; stroke-width: 0.100px; stroke-linejoin: round" x="291.138 297.367 300.685" y="1232.5556" transform="rotate(-0.05 298.831164 1232.555604)">1.2</text></g>
     </g>
    </g>
    <g id="xtick_34">
     <g id="line2d_139">
      <path d="M 374.614431 1217.957166 
L 374.614431 939.70346 
" clip-path="url(#pe1c3ee5b1e)" style="fill: none; stroke-dasharray: 2.96,1.28; stroke-dashoffset: 0; stroke: #b0b0b0; stroke-opacity: 0.7; stroke-width: 0.8"/>
     </g>
     <g id="line2d_140">
      <g>
       <use href="#mc64cb7f3fb" x="374.614431" y="1217.957166" style="stroke: #000000; stroke-width: 0.8"/>
      </g>
     </g>
     <g id="text_90">
      <g transform="translate(0 0.6590)"><text style="font-size: 10.500px; font-family: 'Liberation Sans', sans-serif; text-anchor: start; stroke: #000000; stroke-width: 0.100px; stroke-linejoin: round" x="366.921 373.150 376.468" y="1232.5556" transform="rotate(-0.05 374.614431 1232.555604)">1.4</text></g>
     </g>
    </g>
    <g id="xtick_35">
     <g id="line2d_141">
      <path d="M 450.397698 1217.957166 
L 450.397698 939.70346 
" clip-path="url(#pe1c3ee5b1e)" style="fill: none; stroke-dasharray: 2.96,1.28; stroke-dashoffset: 0; stroke: #b0b0b0; stroke-opacity: 0.7; stroke-width: 0.8"/>
     </g>
     <g id="line2d_142">
      <g>
       <use href="#mc64cb7f3fb" x="450.397698" y="1217.957166" style="stroke: #000000; stroke-width: 0.8"/>
      </g>
     </g>
     <g id="text_91">
      <g transform="translate(0 0.6590)"><text style="font-size: 10.500px; font-family: 'Liberation Sans', sans-serif; text-anchor: start; stroke: #000000; stroke-width: 0.100px; stroke-linejoin: round" x="442.704 448.933 452.251" y="1232.5556" transform="rotate(-0.05 450.397698 1232.555604)">1.6</text></g>
     </g>
    </g>
    <g id="xtick_36">
     <g id="line2d_143">
      <path d="M 526.180965 1217.957166 
L 526.180965 939.70346 
" clip-path="url(#pe1c3ee5b1e)" style="fill: none; stroke-dasharray: 2.96,1.28; stroke-dashoffset: 0; stroke: #b0b0b0; stroke-opacity: 0.7; stroke-width: 0.8"/>
     </g>
     <g id="line2d_144">
      <g>
       <use href="#mc64cb7f3fb" x="526.180965" y="1217.957166" style="stroke: #000000; stroke-width: 0.8"/>
      </g>
     </g>
     <g id="text_92">
      <g transform="translate(0 0.6590)"><text style="font-size: 10.500px; font-family: 'Liberation Sans', sans-serif; text-anchor: start; stroke: #000000; stroke-width: 0.100px; stroke-linejoin: round" x="518.488 524.716 528.035" y="1232.5556" transform="rotate(-0.05 526.180965 1232.555604)">1.8</text></g>
     </g>
    </g>
    <g id="text_93">
     <text style="font-size: 12.600px; font-family: 'Liberation Sans', sans-serif; text-anchor: start; stroke: #000000; stroke-width: 0.120px; stroke-linejoin: round" x="253.856 261.748 269.889 275.594 287.042 289.991 296.918 304.553 312.134 321.460 325.706 330.071 333.722" y="1247.7534" transform="rotate(-0.05 296.046129 1247.753416)">EVLW-TPTD [l]</text>
    </g>
   </g>
   <g id="matplotlib.axis_10">
    <g id="ytick_33">
     <g id="line2d_145">
      <path d="M 39.538715 1195.057456 
L 552.553542 1195.057456 
" clip-path="url(#pe1c3ee5b1e)" style="fill: none; stroke-dasharray: 2.96,1.28; stroke-dashoffset: 0; stroke: #b0b0b0; stroke-opacity: 0.7; stroke-width: 0.8"/>
     </g>
     <g id="line2d_146">
      <g>
       <use href="#mc382395a5d" x="39.538715" y="1195.057456" style="stroke: #000000; stroke-width: 0.8"/>
      </g>
     </g>
     <g id="text_94">
      <g transform="translate(0 0.6590)"><text style="font-size: 10.500px; font-family: 'Liberation Sans', sans-serif; text-anchor: start; stroke: #000000; stroke-width: 0.100px; stroke-linejoin: round" x="16.891 23.120 26.438" y="1198.8567" transform="rotate(-0.05 32.538715 1198.856675)">1.0</text></g>
     </g>
    </g>
    <g id="ytick_34">
     <g id="line2d_147">
      <path d="M 39.538715 1162.13192 
L 552.553542 1162.13192 
" clip-path="url(#pe1c3ee5b1e)" style="fill: none; stroke-dasharray: 2.96,1.28; stroke-dashoffset: 0; stroke: #b0b0b0; stroke-opacity: 0.7; stroke-width: 0.8"/>
     </g>
     <g id="line2d_148">
      <g>
       <use href="#mc382395a5d" x="39.538715" y="1162.13192" style="stroke: #000000; stroke-width: 0.8"/>
      </g>
     </g>
     <g id="text_95">
      <g transform="translate(0 0.6590)"><text style="font-size: 10.500px; font-family: 'Liberation Sans', sans-serif; text-anchor: start; stroke: #000000; stroke-width: 0.100px; stroke-linejoin: round" x="16.891 23.120 26.438" y="1165.9311" transform="rotate(-0.05 32.538715 1165.931138)">1.2</text></g>
     </g>
    </g>
    <g id="ytick_35">
     <g id="line2d_149">
      <path d="M 39.538715 1129.206383 
L 552.553542 1129.206383 
" clip-path="url(#pe1c3ee5b1e)" style="fill: none; stroke-dasharray: 2.96,1.28; stroke-dashoffset: 0; stroke: #b0b0b0; stroke-opacity: 0.7; stroke-width: 0.8"/>
     </g>
     <g id="line2d_150">
      <g>
       <use href="#mc382395a5d" x="39.538715" y="1129.206383" style="stroke: #000000; stroke-width: 0.8"/>
      </g>
     </g>
     <g id="text_96">
      <g transform="translate(0 0.6590)"><text style="font-size: 10.500px; font-family: 'Liberation Sans', sans-serif; text-anchor: start; stroke: #000000; stroke-width: 0.100px; stroke-linejoin: round" x="16.891 23.120 26.438" y="1133.0056" transform="rotate(-0.05 32.538715 1133.005602)">1.4</text></g>
     </g>
    </g>
    <g id="ytick_36">
     <g id="line2d_151">
      <path d="M 39.538715 1096.280847 
L 552.553542 1096.280847 
" clip-path="url(#pe1c3ee5b1e)" style="fill: none; stroke-dasharray: 2.96,1.28; stroke-dashoffset: 0; stroke: #b0b0b0; stroke-opacity: 0.7; stroke-width: 0.8"/>
     </g>
     <g id="line2d_152">
      <g>
       <use href="#mc382395a5d" x="39.538715" y="1096.280847" style="stroke: #000000; stroke-width: 0.8"/>
      </g>
     </g>
     <g id="text_97">
      <g transform="translate(0 0.6590)"><text style="font-size: 10.500px; font-family: 'Liberation Sans', sans-serif; text-anchor: start; stroke: #000000; stroke-width: 0.100px; stroke-linejoin: round" x="16.891 23.120 26.438" y="1100.0801" transform="rotate(-0.05 32.538715 1100.080066)">1.6</text></g>
     </g>
    </g>
    <g id="ytick_37">
     <g id="line2d_153">
      <path d="M 39.538715 1063.355311 
L 552.553542 1063.355311 
" clip-path="url(#pe1c3ee5b1e)" style="fill: none; stroke-dasharray: 2.96,1.28; stroke-dashoffset: 0; stroke: #b0b0b0; stroke-opacity: 0.7; stroke-width: 0.8"/>
     </g>
     <g id="line2d_154">
      <g>
       <use href="#mc382395a5d" x="39.538715" y="1063.355311" style="stroke: #000000; stroke-width: 0.8"/>
      </g>
     </g>
     <g id="text_98">
      <g transform="translate(0 0.6590)"><text style="font-size: 10.500px; font-family: 'Liberation Sans', sans-serif; text-anchor: start; stroke: #000000; stroke-width: 0.100px; stroke-linejoin: round" x="16.891 23.120 26.438" y="1067.1545" transform="rotate(-0.05 32.538715 1067.15453)">1.8</text></g>
     </g>
    </g>
    <g id="ytick_38">
     <g id="line2d_155">
      <path d="M 39.538715 1030.429775 
L 552.553542 1030.429775 
" clip-path="url(#pe1c3ee5b1e)" style="fill: none; stroke-dasharray: 2.96,1.28; stroke-dashoffset: 0; stroke: #b0b0b0; stroke-opacity: 0.7; stroke-width: 0.8"/>
     </g>
     <g id="line2d_156">
      <g>
       <use href="#mc382395a5d" x="39.538715" y="1030.429775" style="stroke: #000000; stroke-width: 0.8"/>
      </g>
     </g>
     <g id="text_99">
      <g transform="translate(0 0.6590)"><text style="font-size: 10.500px; font-family: 'Liberation Sans', sans-serif; text-anchor: start; stroke: #000000; stroke-width: 0.100px; stroke-linejoin: round" x="16.891 23.120 26.438" y="1034.2290" transform="rotate(-0.05 32.538715 1034.228993)">2.0</text></g>
     </g>
    </g>
    <g id="ytick_39">
     <g id="line2d_157">
      <path d="M 39.538715 997.504239 
L 552.553542 997.504239 
" clip-path="url(#pe1c3ee5b1e)" style="fill: none; stroke-dasharray: 2.96,1.28; stroke-dashoffset: 0; stroke: #b0b0b0; stroke-opacity: 0.7; stroke-width: 0.8"/>
     </g>
     <g id="line2d_158">
      <g>
       <use href="#mc382395a5d" x="39.538715" y="997.504239" style="stroke: #000000; stroke-width: 0.8"/>
      </g>
     </g>
     <g id="text_100">
      <g transform="translate(0 0.6590)"><text style="font-size: 10.500px; font-family: 'Liberation Sans', sans-serif; text-anchor: start; stroke: #000000; stroke-width: 0.100px; stroke-linejoin: round" x="16.891 23.120 26.438" y="1001.3035" transform="rotate(-0.05 32.538715 1001.303457)">2.2</text></g>
     </g>
    </g>
    <g id="ytick_40">
     <g id="line2d_159">
      <path d="M 39.538715 964.578702 
L 552.553542 964.578702 
" clip-path="url(#pe1c3ee5b1e)" style="fill: none; stroke-dasharray: 2.96,1.28; stroke-dashoffset: 0; stroke: #b0b0b0; stroke-opacity: 0.7; stroke-width: 0.8"/>
     </g>
     <g id="line2d_160">
      <g>
       <use href="#mc382395a5d" x="39.538715" y="964.578702" style="stroke: #000000; stroke-width: 0.8"/>
      </g>
     </g>
     <g id="text_101">
      <g transform="translate(0 0.6590)"><text style="font-size: 10.500px; font-family: 'Liberation Sans', sans-serif; text-anchor: start; stroke: #000000; stroke-width: 0.100px; stroke-linejoin: round" x="16.891 23.120 26.438" y="968.3779" transform="rotate(-0.05 32.538715 968.377921)">2.4</text></g>
     </g>
    </g>
    <g id="text_102">
     <text style="font-size: 12.600px; font-family: 'Liberation Sans', sans-serif; text-anchor: start; stroke: #000000; stroke-width: 0.060px; stroke-linejoin: round" x="-6.071 1.342 9.804 14.050 18.415 22.066" y="1078.8303" transform="rotate(-90.05 10.139965 1078.830313)">TV [l]</text>
    </g>
   </g>
   <g id="line2d_161">
    <path d="M 62.749812 1178.340995 
L 529.146397 997.462812 
" clip-path="url(#pe1c3ee5b1e)" style="fill: none; stroke-dasharray: 5.55,2.4; stroke-dashoffset: 0; stroke: #4682b4; stroke-width: 1.5"/>
   </g>
   <g id="patch_25">
    <path d="M 39.538715 1217.957166 
L 39.538715 939.70346 
" style="fill: none; stroke: #000000; stroke-width: 0.8; stroke-linejoin: miter; stroke-linecap: square"/>
   </g>
   <g id="patch_26">
    <path d="M 552.553542 1217.957166 
L 552.553542 939.70346 
" style="fill: none; stroke: #000000; stroke-width: 0.8; stroke-linejoin: miter; stroke-linecap: square"/>
   </g>
   <g id="patch_27">
    <path d="M 39.538715 1217.957166 
L 552.553542 1217.957166 
" style="fill: none; stroke: #000000; stroke-width: 0.8; stroke-linejoin: miter; stroke-linecap: square"/>
   </g>
   <g id="patch_28">
    <path d="M 39.538715 939.70346 
L 552.553542 939.70346 
" style="fill: none; stroke: #000000; stroke-width: 0.8; stroke-linejoin: miter; stroke-linecap: square"/>
   </g>
   <g id="text_103">
    <g id="patch_29">
     <path d="M 65.189456 982.26727 
L 179.682581 982.26727 
Q 183.282581 982.26727 183.282581 978.66727 
L 183.282581 953.616145 
Q 183.282581 950.016145 179.682581 950.016145 
L 65.189456 950.016145 
Q 61.589456 950.016145 61.589456 953.616145 
L 61.589456 978.66727 
Q 61.589456 982.26727 65.189456 982.26727 
z
" style="fill: #ffffff; stroke: #000000; stroke-linejoin: miter"/>
    </g>
    <text style="font-size: 12.600px; font-family: 'Liberation Sans', sans-serif; text-anchor: start; stroke: #000000; stroke-width: 0.120px; stroke-linejoin: round" x="-0.402 7.923 15.431 22.807 30.365 35.274 46.541 54.026 61.497 65.521 70.247 75.247 84.122 88.088 95.575 99.541 107.182" y="0.0000" transform="translate(65.189456 962.73427) rotate(-0.05)">Spearman r = 0.59</text>
    <text style="font-size: 12.600px; font-family: 'Liberation Sans', sans-serif; text-anchor: start; stroke: #000000; stroke-width: 0.120px; stroke-linejoin: round" x="0.298 7.778 12.778 21.653 25.619 33.107 37.072 44.713 52.228 59.500 64.072 71.713" y="0.0000" transform="translate(65.189456 976.171645) rotate(-0.05)">p = 3.09e-03</text>
   </g>
   <g id="text_104">
    <g transform="translate(0 0.8237)"><text style="font-weight: 700; font-size: 16.800px; font-family: 'Liberation Sans', sans-serif; text-anchor: start; stroke: #000000; stroke-width: 0.550px; stroke-linejoin: round" x="29.455" y="908.5506" transform="rotate(-0.05 39.538715 908.550589)">e</text></g>
   </g>
   <g id="text_105">
    <text style="font-size: 14.700px; font-family: 'Liberation Sans', sans-serif; text-anchor: start; stroke: #000000; stroke-width: 0.140px; stroke-linejoin: round" x="182.467 191.994 199.724 208.810 214.294 219.288 228.115 233.784 242.640 246.405 255.482 260.447 265.123 276.483 280.763 285.887 294.603 298.418 308.195 316.941 325.911 331.195 339.558 346.855 354.499 358.264 366.981 375.697 379.772 388.077 391.996 400.741" y="933.7035" transform="rotate(-0.05 296.046129 933.70346)">Scatterplot with Regression Line</text>
   </g>
  </g>
  <g id="axes_6">
   <g id="patch_30">
    <path d="M 611.69687 1217.957166 
L 1124.546952 1217.957166 
L 1124.546952 939.70346 
L 611.69687 939.70346 
z
" style="fill: #ffffff"/>
   </g>
   <g id="PathCollection_6">
    <g clip-path="url(#pe50eaa8c8d)">
     <use href="#m68a2e3ce47" x="633.938479" y="1076.393944" style="fill: #808080; fill-opacity: 0.7; stroke: #000000; stroke-opacity: 0.7"/>
     <use href="#m68a2e3ce47" x="686.709997" y="1058.917673" style="fill: #808080; fill-opacity: 0.7; stroke: #000000; stroke-opacity: 0.7"/>
     <use href="#m68a2e3ce47" x="803.588729" y="1154.496242" style="fill: #808080; fill-opacity: 0.7; stroke: #000000; stroke-opacity: 0.7"/>
     <use href="#m68a2e3ce47" x="713.936815" y="1056.837915" style="fill: #808080; fill-opacity: 0.7; stroke: #000000; stroke-opacity: 0.7"/>
     <use href="#m68a2e3ce47" x="787.951071" y="1119.92293" style="fill: #808080; fill-opacity: 0.7; stroke: #000000; stroke-opacity: 0.7"/>
     <use href="#m68a2e3ce47" x="729.616093" y="1057.836662" style="fill: #808080; fill-opacity: 0.7; stroke: #000000; stroke-opacity: 0.7"/>
     <use href="#m68a2e3ce47" x="691.013284" y="989.856372" style="fill: #808080; fill-opacity: 0.7; stroke: #000000; stroke-opacity: 0.7"/>
     <use href="#m68a2e3ce47" x="767.010492" y="1065.937963" style="fill: #808080; fill-opacity: 0.7; stroke: #000000; stroke-opacity: 0.7"/>
     <use href="#m68a2e3ce47" x="899.041055" y="1205.818525" style="fill: #808080; fill-opacity: 0.7; stroke: #000000; stroke-opacity: 0.7"/>
     <use href="#m68a2e3ce47" x="865.060655" y="1146.920228" style="fill: #808080; fill-opacity: 0.7; stroke: #000000; stroke-opacity: 0.7"/>
     <use href="#m68a2e3ce47" x="748.7369" y="1023.116157" style="fill: #808080; fill-opacity: 0.7; stroke: #000000; stroke-opacity: 0.7"/>
     <use href="#m68a2e3ce47" x="807.133871" y="1067.818614" style="fill: #808080; fill-opacity: 0.7; stroke: #000000; stroke-opacity: 0.7"/>
     <use href="#m68a2e3ce47" x="906.990364" y="1173.776299" style="fill: #808080; fill-opacity: 0.7; stroke: #000000; stroke-opacity: 0.7"/>
     <use href="#m68a2e3ce47" x="785.8341" y="1042.587703" style="fill: #808080; fill-opacity: 0.7; stroke: #000000; stroke-opacity: 0.7"/>
     <use href="#m68a2e3ce47" x="789.442786" y="1011.849049" style="fill: #808080; fill-opacity: 0.7; stroke: #000000; stroke-opacity: 0.7"/>
     <use href="#m68a2e3ce47" x="989.277447" y="1204.843231" style="fill: #808080; fill-opacity: 0.7; stroke: #000000; stroke-opacity: 0.7"/>
     <use href="#m68a2e3ce47" x="963.964092" y="1168.776957" style="fill: #808080; fill-opacity: 0.7; stroke: #000000; stroke-opacity: 0.7"/>
     <use href="#m68a2e3ce47" x="864.805836" y="1035.546691" style="fill: #808080; fill-opacity: 0.7; stroke: #000000; stroke-opacity: 0.7"/>
     <use href="#m68a2e3ce47" x="844.827554" y="1002.27695" style="fill: #808080; fill-opacity: 0.7; stroke: #000000; stroke-opacity: 0.7"/>
     <use href="#m68a2e3ce47" x="887.856536" y="985.958106" style="fill: #808080; fill-opacity: 0.7; stroke: #000000; stroke-opacity: 0.7"/>
     <use href="#m68a2e3ce47" x="950.503509" y="1051.192847" style="fill: #808080; fill-opacity: 0.7; stroke: #000000; stroke-opacity: 0.7"/>
     <use href="#m68a2e3ce47" x="1000.615536" y="1091.079834" style="fill: #808080; fill-opacity: 0.7; stroke: #000000; stroke-opacity: 0.7"/>
     <use href="#m68a2e3ce47" x="1102.177591" y="1121.529379" style="fill: #808080; fill-opacity: 0.7; stroke: #000000; stroke-opacity: 0.7"/>
    </g>
   </g>
   <g id="matplotlib.axis_11">
    <g id="xtick_37">
     <g id="line2d_162">
      <path d="M 637.228667 1217.957166 
L 637.228667 939.70346 
" clip-path="url(#pe50eaa8c8d)" style="fill: none; stroke-dasharray: 2.96,1.28; stroke-dashoffset: 0; stroke: #b0b0b0; stroke-opacity: 0.7; stroke-width: 0.8"/>
     </g>
     <g id="line2d_163">
      <g>
       <use href="#mc64cb7f3fb" x="637.228667" y="1217.957166" style="stroke: #000000; stroke-width: 0.8"/>
      </g>
     </g>
     <g id="text_106">
      <g transform="translate(0 0.6590)"><text style="font-size: 10.500px; font-family: 'Liberation Sans', sans-serif; text-anchor: start; stroke: #000000; stroke-width: 0.100px; stroke-linejoin: round" x="629.535 635.764 639.082" y="1232.5556" transform="rotate(-0.05 637.228667 1232.555604)">0.8</text></g>
     </g>
    </g>
    <g id="xtick_38">
     <g id="line2d_164">
      <path d="M 706.420529 1217.957166 
L 706.420529 939.70346 
" clip-path="url(#pe50eaa8c8d)" style="fill: none; stroke-dasharray: 2.96,1.28; stroke-dashoffset: 0; stroke: #b0b0b0; stroke-opacity: 0.7; stroke-width: 0.8"/>
     </g>
     <g id="line2d_165">
      <g>
       <use href="#mc64cb7f3fb" x="706.420529" y="1217.957166" style="stroke: #000000; stroke-width: 0.8"/>
      </g>
     </g>
     <g id="text_107">
      <g transform="translate(0 0.6590)"><text style="font-size: 10.500px; font-family: 'Liberation Sans', sans-serif; text-anchor: start; stroke: #000000; stroke-width: 0.100px; stroke-linejoin: round" x="698.727 704.956 708.274" y="1232.5556" transform="rotate(-0.05 706.420529 1232.555604)">1.0</text></g>
     </g>
    </g>
    <g id="xtick_39">
     <g id="line2d_166">
      <path d="M 775.612391 1217.957166 
L 775.612391 939.70346 
" clip-path="url(#pe50eaa8c8d)" style="fill: none; stroke-dasharray: 2.96,1.28; stroke-dashoffset: 0; stroke: #b0b0b0; stroke-opacity: 0.7; stroke-width: 0.8"/>
     </g>
     <g id="line2d_167">
      <g>
       <use href="#mc64cb7f3fb" x="775.612391" y="1217.957166" style="stroke: #000000; stroke-width: 0.8"/>
      </g>
     </g>
     <g id="text_108">
      <g transform="translate(0 0.6590)"><text style="font-size: 10.500px; font-family: 'Liberation Sans', sans-serif; text-anchor: start; stroke: #000000; stroke-width: 0.100px; stroke-linejoin: round" x="767.919 774.148 777.466" y="1232.5556" transform="rotate(-0.05 775.612391 1232.555604)">1.2</text></g>
     </g>
    </g>
    <g id="xtick_40">
     <g id="line2d_168">
      <path d="M 844.804253 1217.957166 
L 844.804253 939.70346 
" clip-path="url(#pe50eaa8c8d)" style="fill: none; stroke-dasharray: 2.96,1.28; stroke-dashoffset: 0; stroke: #b0b0b0; stroke-opacity: 0.7; stroke-width: 0.8"/>
     </g>
     <g id="line2d_169">
      <g>
       <use href="#mc64cb7f3fb" x="844.804253" y="1217.957166" style="stroke: #000000; stroke-width: 0.8"/>
      </g>
     </g>
     <g id="text_109">
      <g transform="translate(0 0.6590)"><text style="font-size: 10.500px; font-family: 'Liberation Sans', sans-serif; text-anchor: start; stroke: #000000; stroke-width: 0.100px; stroke-linejoin: round" x="837.111 843.340 846.658" y="1232.5556" transform="rotate(-0.05 844.804253 1232.555604)">1.4</text></g>
     </g>
    </g>
    <g id="xtick_41">
     <g id="line2d_170">
      <path d="M 913.996116 1217.957166 
L 913.996116 939.70346 
" clip-path="url(#pe50eaa8c8d)" style="fill: none; stroke-dasharray: 2.96,1.28; stroke-dashoffset: 0; stroke: #b0b0b0; stroke-opacity: 0.7; stroke-width: 0.8"/>
     </g>
     <g id="line2d_171">
      <g>
       <use href="#mc64cb7f3fb" x="913.996116" y="1217.957166" style="stroke: #000000; stroke-width: 0.8"/>
      </g>
     </g>
     <g id="text_110">
      <g transform="translate(0 0.6590)"><text style="font-size: 10.500px; font-family: 'Liberation Sans', sans-serif; text-anchor: start; stroke: #000000; stroke-width: 0.100px; stroke-linejoin: round" x="906.303 912.532 915.850" y="1232.5556" transform="rotate(-0.05 913.996116 1232.555604)">1.6</text></g>
     </g>
    </g>
    <g id="xtick_42">
     <g id="line2d_172">
      <path d="M 983.187978 1217.957166 
L 983.187978 939.70346 
" clip-path="url(#pe50eaa8c8d)" style="fill: none; stroke-dasharray: 2.96,1.28; stroke-dashoffset: 0; stroke: #b0b0b0; stroke-opacity: 0.7; stroke-width: 0.8"/>
     </g>
     <g id="line2d_173">
      <g>
       <use href="#mc64cb7f3fb" x="983.187978" y="1217.957166" style="stroke: #000000; stroke-width: 0.8"/>
      </g>
     </g>
     <g id="text_111">
      <g transform="translate(0 0.6590)"><text style="font-size: 10.500px; font-family: 'Liberation Sans', sans-serif; text-anchor: start; stroke: #000000; stroke-width: 0.100px; stroke-linejoin: round" x="975.495 981.724 985.042" y="1232.5556" transform="rotate(-0.05 983.187978 1232.555604)">1.8</text></g>
     </g>
    </g>
    <g id="xtick_43">
     <g id="line2d_174">
      <path d="M 1052.37984 1217.957166 
L 1052.37984 939.70346 
" clip-path="url(#pe50eaa8c8d)" style="fill: none; stroke-dasharray: 2.96,1.28; stroke-dashoffset: 0; stroke: #b0b0b0; stroke-opacity: 0.7; stroke-width: 0.8"/>
     </g>
     <g id="line2d_175">
      <g>
       <use href="#mc64cb7f3fb" x="1052.37984" y="1217.957166" style="stroke: #000000; stroke-width: 0.8"/>
      </g>
     </g>
     <g id="text_112">
      <g transform="translate(0 0.6590)"><text style="font-size: 10.500px; font-family: 'Liberation Sans', sans-serif; text-anchor: start; stroke: #000000; stroke-width: 0.100px; stroke-linejoin: round" x="1044.687 1050.915 1054.233" y="1232.5556" transform="rotate(-0.05 1052.37984 1232.555604)">2.0</text></g>
     </g>
    </g>
    <g id="xtick_44">
     <g id="line2d_176">
      <path d="M 1121.571702 1217.957166 
L 1121.571702 939.70346 
" clip-path="url(#pe50eaa8c8d)" style="fill: none; stroke-dasharray: 2.96,1.28; stroke-dashoffset: 0; stroke: #b0b0b0; stroke-opacity: 0.7; stroke-width: 0.8"/>
     </g>
     <g id="line2d_177">
      <g>
       <use href="#mc64cb7f3fb" x="1121.571702" y="1217.957166" style="stroke: #000000; stroke-width: 0.8"/>
      </g>
     </g>
     <g id="text_113">
      <g transform="translate(0 0.6590)"><text style="font-size: 10.500px; font-family: 'Liberation Sans', sans-serif; text-anchor: start; stroke: #000000; stroke-width: 0.100px; stroke-linejoin: round" x="1113.878 1120.107 1123.425" y="1232.5556" transform="rotate(-0.05 1121.571702 1232.555604)">2.2</text></g>
     </g>
    </g>
    <g id="text_114">
     <text style="font-size: 12.600px; font-family: 'Liberation Sans', sans-serif; text-anchor: start; stroke: #000000; stroke-width: 0.120px; stroke-linejoin: round" x="796.886 804.840 811.735 819.310 824.049 831.540 839.048 846.411 850.230 857.772 861.786 865.364 875.985 883.361 890.524 897.097 904.779 909.282 916.462 922.895 926.793 931.507 934.809" y="1247.7534" transform="rotate(-0.05 868.121911 1247.753416)">Average of Measures (l)</text>
    </g>
   </g>
   <g id="matplotlib.axis_12">
    <g id="ytick_41">
     <g id="line2d_178">
      <path d="M 611.69687 1181.872922 
L 1124.546952 1181.872922 
" clip-path="url(#pe50eaa8c8d)" style="fill: none; stroke-dasharray: 2.96,1.28; stroke-dashoffset: 0; stroke: #b0b0b0; stroke-opacity: 0.7; stroke-width: 0.8"/>
     </g>
     <g id="line2d_179">
      <g>
       <use href="#mc382395a5d" x="611.69687" y="1181.872922" style="stroke: #000000; stroke-width: 0.8"/>
      </g>
     </g>
     <g id="text_115">
      <g transform="translate(0 0.6590)"><text style="font-size: 10.500px; font-family: 'Liberation Sans', sans-serif; text-anchor: start; stroke: #000000; stroke-width: 0.100px; stroke-linejoin: round" x="581.536 589.049 595.278 598.596" y="1185.6721" transform="rotate(-0.05 604.69687 1185.672141)">−1.0</text></g>
     </g>
    </g>
    <g id="ytick_42">
     <g id="line2d_180">
      <path d="M 611.69687 1145.052265 
L 1124.546952 1145.052265 
" clip-path="url(#pe50eaa8c8d)" style="fill: none; stroke-dasharray: 2.96,1.28; stroke-dashoffset: 0; stroke: #b0b0b0; stroke-opacity: 0.7; stroke-width: 0.8"/>
     </g>
     <g id="line2d_181">
      <g>
       <use href="#mc382395a5d" x="611.69687" y="1145.052265" style="stroke: #000000; stroke-width: 0.8"/>
      </g>
     </g>
     <g id="text_116">
      <g transform="translate(0 0.6590)"><text style="font-size: 10.500px; font-family: 'Liberation Sans', sans-serif; text-anchor: start; stroke: #000000; stroke-width: 0.100px; stroke-linejoin: round" x="581.536 589.049 595.278 598.596" y="1148.8515" transform="rotate(-0.05 604.69687 1148.851484)">−0.8</text></g>
     </g>
    </g>
    <g id="ytick_43">
     <g id="line2d_182">
      <path d="M 611.69687 1108.231608 
L 1124.546952 1108.231608 
" clip-path="url(#pe50eaa8c8d)" style="fill: none; stroke-dasharray: 2.96,1.28; stroke-dashoffset: 0; stroke: #b0b0b0; stroke-opacity: 0.7; stroke-width: 0.8"/>
     </g>
     <g id="line2d_183">
      <g>
       <use href="#mc382395a5d" x="611.69687" y="1108.231608" style="stroke: #000000; stroke-width: 0.8"/>
      </g>
     </g>
     <g id="text_117">
      <g transform="translate(0 0.6590)"><text style="font-size: 10.500px; font-family: 'Liberation Sans', sans-serif; text-anchor: start; stroke: #000000; stroke-width: 0.100px; stroke-linejoin: round" x="581.536 589.049 595.278 598.596" y="1112.0308" transform="rotate(-0.05 604.69687 1112.030827)">−0.6</text></g>
     </g>
    </g>
    <g id="ytick_44">
     <g id="line2d_184">
      <path d="M 611.69687 1071.410951 
L 1124.546952 1071.410951 
" clip-path="url(#pe50eaa8c8d)" style="fill: none; stroke-dasharray: 2.96,1.28; stroke-dashoffset: 0; stroke: #b0b0b0; stroke-opacity: 0.7; stroke-width: 0.8"/>
     </g>
     <g id="line2d_185">
      <g>
       <use href="#mc382395a5d" x="611.69687" y="1071.410951" style="stroke: #000000; stroke-width: 0.8"/>
      </g>
     </g>
     <g id="text_118">
      <g transform="translate(0 0.6590)"><text style="font-size: 10.500px; font-family: 'Liberation Sans', sans-serif; text-anchor: start; stroke: #000000; stroke-width: 0.100px; stroke-linejoin: round" x="581.536 589.049 595.278 598.596" y="1075.2102" transform="rotate(-0.05 604.69687 1075.210169)">−0.4</text></g>
     </g>
    </g>
    <g id="ytick_45">
     <g id="line2d_186">
      <path d="M 611.69687 1034.590293 
L 1124.546952 1034.590293 
" clip-path="url(#pe50eaa8c8d)" style="fill: none; stroke-dasharray: 2.96,1.28; stroke-dashoffset: 0; stroke: #b0b0b0; stroke-opacity: 0.7; stroke-width: 0.8"/>
     </g>
     <g id="line2d_187">
      <g>
       <use href="#mc382395a5d" x="611.69687" y="1034.590293" style="stroke: #000000; stroke-width: 0.8"/>
      </g>
     </g>
     <g id="text_119">
      <g transform="translate(0 0.6590)"><text style="font-size: 10.500px; font-family: 'Liberation Sans', sans-serif; text-anchor: start; stroke: #000000; stroke-width: 0.100px; stroke-linejoin: round" x="581.536 589.049 595.278 598.596" y="1038.3895" transform="rotate(-0.05 604.69687 1038.389512)">−0.2</text></g>
     </g>
    </g>
    <g id="ytick_46">
     <g id="line2d_188">
      <path d="M 611.69687 997.769636 
L 1124.546952 997.769636 
" clip-path="url(#pe50eaa8c8d)" style="fill: none; stroke-dasharray: 2.96,1.28; stroke-dashoffset: 0; stroke: #b0b0b0; stroke-opacity: 0.7; stroke-width: 0.8"/>
     </g>
     <g id="line2d_189">
      <g>
       <use href="#mc382395a5d" x="611.69687" y="997.769636" style="stroke: #000000; stroke-width: 0.8"/>
      </g>
     </g>
     <g id="text_120">
      <g transform="translate(0 0.6590)"><text style="font-size: 10.500px; font-family: 'Liberation Sans', sans-serif; text-anchor: start; stroke: #000000; stroke-width: 0.100px; stroke-linejoin: round" x="589.049 595.278 598.596" y="1001.5689" transform="rotate(-0.05 604.69687 1001.568855)">0.0</text></g>
     </g>
    </g>
    <g id="ytick_47">
     <g id="line2d_190">
      <path d="M 611.69687 960.948979 
L 1124.546952 960.948979 
" clip-path="url(#pe50eaa8c8d)" style="fill: none; stroke-dasharray: 2.96,1.28; stroke-dashoffset: 0; stroke: #b0b0b0; stroke-opacity: 0.7; stroke-width: 0.8"/>
     </g>
     <g id="line2d_191">
      <g>
       <use href="#mc382395a5d" x="611.69687" y="960.948979" style="stroke: #000000; stroke-width: 0.8"/>
      </g>
     </g>
     <g id="text_121">
      <g transform="translate(0 0.6590)"><text style="font-size: 10.500px; font-family: 'Liberation Sans', sans-serif; text-anchor: start; stroke: #000000; stroke-width: 0.100px; stroke-linejoin: round" x="589.049 595.278 598.596" y="964.7482" transform="rotate(-0.05 604.69687 964.748198)">0.2</text></g>
     </g>
    </g>
    <g id="text_122">
     <text style="font-size: 12.600px; font-family: 'Liberation Sans', sans-serif; text-anchor: start; stroke: #000000; stroke-width: 0.060px; stroke-linejoin: round" x="476.272 485.709 489.131 493.350 497.391 504.966 509.469 516.971 524.431 531.063 538.426 542.383 549.891 557.700 562.153 571.797 579.188 586.690 594.161 597.738 608.360 615.736 622.899 629.471 637.153 641.657 648.836 655.270 659.168 663.881 667.184" y="1078.8303" transform="rotate(-90.05 573.918432 1078.830313)">Difference between Measures (l)</text>
    </g>
   </g>
   <g id="line2d_192">
    <path d="M 611.69687 1082.917406 
L 1124.546952 1082.917406 
" clip-path="url(#pe50eaa8c8d)" style="fill: none; stroke-dasharray: 5.55,2.4; stroke-dashoffset: 0; stroke: #4682b4; stroke-width: 1.5"/>
   </g>
   <g id="line2d_193">
    <path d="M 611.69687 951.559711 
L 1124.546952 951.559711 
" clip-path="url(#pe50eaa8c8d)" style="fill: none; stroke-dasharray: 4.44,1.92; stroke-dashoffset: 0; stroke: #cd5c5c; stroke-opacity: 0.8; stroke-width: 1.2"/>
   </g>
   <g id="line2d_194">
    <path d="M 611.69687 1214.275101 
L 1124.546952 1214.275101 
" clip-path="url(#pe50eaa8c8d)" style="fill: none; stroke-dasharray: 4.44,1.92; stroke-dashoffset: 0; stroke: #cd5c5c; stroke-opacity: 0.8; stroke-width: 1.2"/>
   </g>
   <g id="patch_31">
    <path d="M 611.69687 1217.957166 
L 611.69687 939.70346 
" style="fill: none; stroke: #000000; stroke-width: 0.8; stroke-linejoin: miter; stroke-linecap: square"/>
   </g>
   <g id="patch_32">
    <path d="M 1124.546952 1217.957166 
L 1124.546952 939.70346 
" style="fill: none; stroke: #000000; stroke-width: 0.8; stroke-linejoin: miter; stroke-linecap: square"/>
   </g>
   <g id="patch_33">
    <path d="M 611.69687 1217.957166 
L 1124.546952 1217.957166 
" style="fill: none; stroke: #000000; stroke-width: 0.8; stroke-linejoin: miter; stroke-linecap: square"/>
   </g>
   <g id="patch_34">
    <path d="M 611.69687 939.70346 
L 1124.546952 939.70346 
" style="fill: none; stroke: #000000; stroke-width: 0.8; stroke-linejoin: miter; stroke-linecap: square"/>
   </g>
   <g id="text_123">
    <text style="font-size: 10.500px; font-family: 'Liberation Sans', sans-serif; text-anchor: start; fill: #cd5c5c; stroke: #cd5c5c; stroke-width: 0.050px; stroke-linejoin: round" x="658.516 666.230 672.573 678.820 685.127 689.060 691.982 697.709 703.613 710.669 713.928 718.756 726.268 732.497 735.815 742.175 748.403 751.132 757.863 765.709 769.639 772.919 776.237 782.466 785.784 792.143 798.372 801.652" y="965.5630" transform="rotate(-0.05 658.647595 965.563006)">Upper LoA (+1.96 SD): 0.25 l</text>
   </g>
   <g id="text_124">
    <text style="font-size: 10.500px; font-family: 'Liberation Sans', sans-serif; text-anchor: start; fill: #4682b4; stroke: #4682b4; stroke-width: 0.050px; stroke-linejoin: round" x="658.588 667.429 673.573 679.803 686.028 689.014 696.167 698.870 704.831 710.295 713.575 716.688 720.503 726.731 730.050 736.409 742.638 745.917" y="1075.9981" transform="rotate(-0.05 658.647595 1075.998131)">Mean Bias: -0.46 l</text>
   </g>
   <g id="text_125">
    <text style="font-size: 10.500px; font-family: 'Liberation Sans', sans-serif; text-anchor: start; fill: #cd5c5c; stroke: #cd5c5c; stroke-width: 0.050px; stroke-linejoin: round" x="658.513 664.240 670.524 678.570 684.877 688.810 691.732 697.459 703.363 710.419 713.678 717.438 721.253 727.481 730.800 737.159 743.388 746.117 752.847 760.694 764.624 767.903 771.016 774.831 781.060 784.378 790.737 796.966 800.245" y="1207.3558" transform="rotate(-0.05 658.647595 1207.355826)">Lower LoA (-1.96 SD): -1.17 l</text>
   </g>
   <g id="text_126">
    <g transform="translate(0 0.8237)"><text style="font-weight: 700; font-size: 16.800px; font-family: 'Liberation Sans', sans-serif; text-anchor: start; stroke: #000000; stroke-width: 0.550px; stroke-linejoin: round" x="605.427" y="908.5506" transform="rotate(-0.05 611.69687 908.550589)">f</text></g>
   </g>
   <g id="text_127">
    <text style="font-size: 14.700px; font-family: 'Liberation Sans', sans-serif; text-anchor: start; stroke: #000000; stroke-width: 0.140px; stroke-linejoin: round" x="805.245 815.277 819.050 827.775 836.657 845.275 849.872 859.887 864.167 869.631 882.784 891.509 900.225 903.804 913.246 917.011 926.089" y="933.7035" transform="rotate(-0.05 868.121911 933.70346)">Bland-Altman Plot</text>
   </g>
  </g>
  <g id="text_128">
   <text style="font-size: 16.800px; font-family: 'Liberation Sans', sans-serif; text-anchor: start; stroke: #000000; stroke-width: 0.160px; stroke-linejoin: round" x="462.953 473.480 484.346 491.974 507.270 511.224 520.472 530.661 540.784 553.216 558.888 564.706 569.591 575.263 580.687 589.590 598.169 603.263 607.609 618.136 629.002 636.630 651.926 657.147 668.552 678.778 684.450 690.268 695.153" y="13.0148" transform="rotate(-0.05 582.042834 13.014827)">EVLW-TPTD [l] vs. EVLW-CT [l]</text>
  </g>
  <g id="text_129">
   <text style="font-size: 16.800px; font-family: 'Liberation Sans', sans-serif; text-anchor: start; stroke: #000000; stroke-width: 0.160px; stroke-linejoin: round" x="443.875 454.402 465.268 472.896 488.191 492.146 501.394 511.583 521.706 534.138 539.810 545.627 550.513 556.185 561.609 570.512 579.091 584.185 588.531 599.058 609.924 617.552 632.848 638.069 649.474 658.082 663.303 675.174 685.234 691.562 697.857 703.528 709.346 714.232" y="441.3509" transform="rotate(-0.05 582.042834 441.350906)">EVLW-TPTD [l] vs. EVLW-CT-Corr [l]</text>
  </g>
  <g id="text_130">
   <text style="font-size: 16.800px; font-family: 'Liberation Sans', sans-serif; text-anchor: start; stroke: #000000; stroke-width: 0.160px; stroke-linejoin: round" x="487.797 498.324 509.190 516.818 532.113 536.068 545.316 555.505 565.627 578.060 583.732 589.549 594.435 600.107 605.531 614.433 623.013 628.107 632.755 642.652 653.935 659.607 665.424 670.310" y="869.6870" transform="rotate(-0.05 582.042834 869.686985)">EVLW-TPTD [l] vs. TV [l]</text>
  </g>
 </g>
 <defs>
  <clipPath id="p856f4ecef2">
   <rect x="39.538715" y="83.031301" width="513.014827" height="278.253707"/>
  </clipPath>
  <clipPath id="p06b17f529e">
   <rect x="611.69687" y="83.031301" width="512.850082" height="278.253707"/>
  </clipPath>
  <clipPath id="p61c717b0c8">
   <rect x="39.538715" y="511.367381" width="513.014827" height="278.253707"/>
  </clipPath>
  <clipPath id="pfb15618886">
   <rect x="611.69687" y="511.367381" width="512.850082" height="278.253707"/>
  </clipPath>
  <clipPath id="pe1c3ee5b1e">
   <rect x="39.538715" y="939.70346" width="513.014827" height="278.253707"/>
  </clipPath>
  <clipPath id="pe50eaa8c8d">
   <rect x="611.69687" y="939.70346" width="512.850082" height="278.253707"/>
  </clipPath>
 </defs>
</svg>

</body></html>
